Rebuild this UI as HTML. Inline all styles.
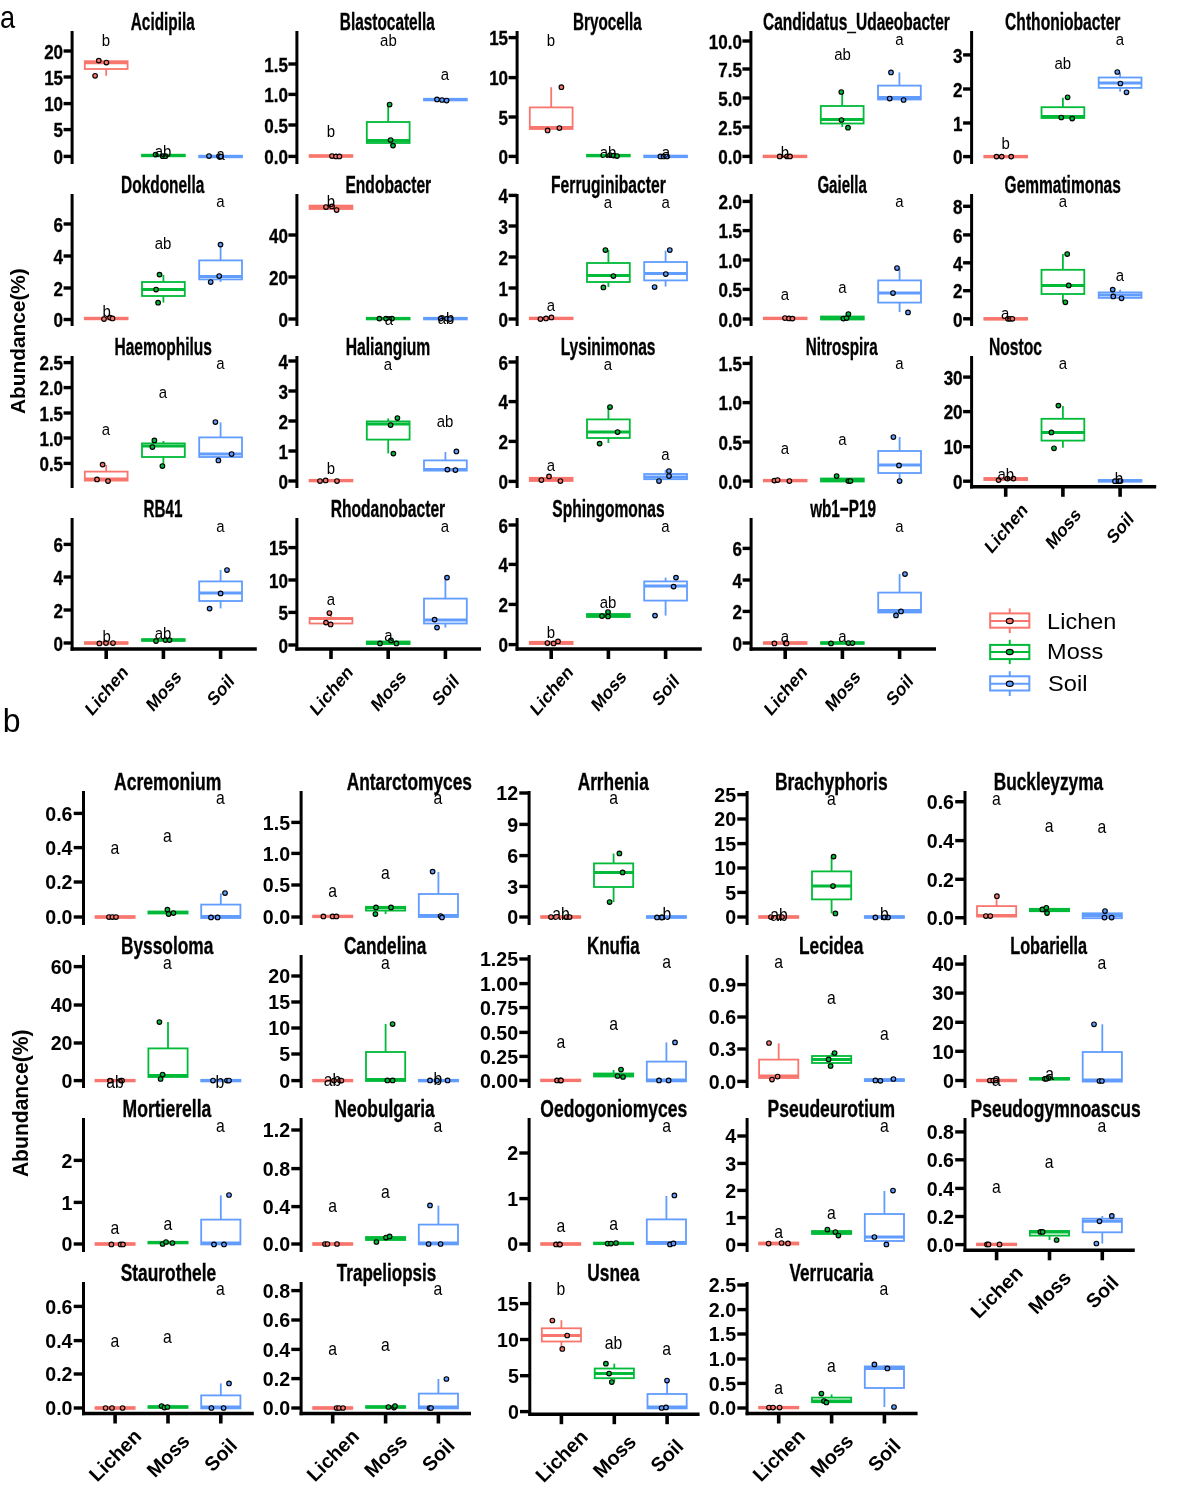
<!DOCTYPE html>
<html><head><meta charset="utf-8"><style>
html,body{margin:0;padding:0;background:#fff;}
svg{display:block;font-family:'Liberation Sans', Arial, Helvetica, sans-serif;}
</style></head><body>
<svg width="1179" height="1500" viewBox="0 0 1179 1500">
<rect width="100%" height="100%" fill="#fff"/>
<g><line x1="72.1" y1="31" x2="72.1" y2="164" stroke="#000" stroke-width="3"/><line x1="63.6" y1="51" x2="72.1" y2="51" stroke="#000" stroke-width="3.4"/><text transform="translate(63.1,58.7) scale(0.87,1)" font-size="19.6" font-weight="bold" text-anchor="end" stroke="#000" stroke-width="0.3">20</text><line x1="63.6" y1="77" x2="72.1" y2="77" stroke="#000" stroke-width="3.4"/><text transform="translate(63.1,84.7) scale(0.87,1)" font-size="19.6" font-weight="bold" text-anchor="end" stroke="#000" stroke-width="0.3">15</text><line x1="63.6" y1="103.6" x2="72.1" y2="103.6" stroke="#000" stroke-width="3.4"/><text transform="translate(63.1,111.3) scale(0.87,1)" font-size="19.6" font-weight="bold" text-anchor="end" stroke="#000" stroke-width="0.3">10</text><line x1="63.6" y1="129.6" x2="72.1" y2="129.6" stroke="#000" stroke-width="3.4"/><text transform="translate(63.1,137.3) scale(0.87,1)" font-size="19.6" font-weight="bold" text-anchor="end" stroke="#000" stroke-width="0.3">5</text><line x1="63.6" y1="156.4" x2="72.1" y2="156.4" stroke="#000" stroke-width="3.4"/><text transform="translate(63.1,164.1) scale(0.87,1)" font-size="19.6" font-weight="bold" text-anchor="end" stroke="#000" stroke-width="0.3">0</text><text transform="translate(130.79,29.95)" font-size="24" font-weight="bold" text-anchor="start" textLength="63.89" lengthAdjust="spacingAndGlyphs" stroke="#000" stroke-width="0.35">Acidipila</text><line x1="106.2" y1="61.2" x2="106.2" y2="61" stroke="#F8766D" stroke-width="1.8"/><line x1="106.2" y1="69" x2="106.2" y2="75.8" stroke="#F8766D" stroke-width="1.8"/><rect x="84.8" y="61.2" width="42.8" height="7.8" fill="#fff" stroke="#F8766D" stroke-width="1.8"/><line x1="84.8" y1="62.8" x2="127.6" y2="62.8" stroke="#F8766D" stroke-width="3"/><circle cx="98.8" cy="60.6" r="2.3" fill="#F8766D" stroke="#000" stroke-width="1.15"/><circle cx="106.4" cy="62.5" r="2.3" fill="#F8766D" stroke="#000" stroke-width="1.15"/><circle cx="95.1" cy="75.8" r="2.3" fill="#F8766D" stroke="#000" stroke-width="1.15"/><text transform="translate(106,45.5) scale(0.88,1)" font-size="17" font-weight="normal" text-anchor="middle">b</text><rect x="142" y="154.7" width="42.8" height="1.6" fill="#fff" stroke="#00BA38" stroke-width="1.8"/><line x1="142" y1="155.5" x2="184.8" y2="155.5" stroke="#00BA38" stroke-width="3"/><circle cx="155.6" cy="154.5" r="2.3" fill="#00BA38" stroke="#000" stroke-width="1.15"/><circle cx="162.7" cy="156.2" r="2.3" fill="#00BA38" stroke="#000" stroke-width="1.15"/><circle cx="165.4" cy="156.2" r="2.3" fill="#00BA38" stroke="#000" stroke-width="1.15"/><text transform="translate(163,156.5) scale(0.88,1)" font-size="17" font-weight="normal" text-anchor="middle">ab</text><rect x="199.2" y="155.7" width="42.8" height="1.6" fill="#fff" stroke="#619CFF" stroke-width="1.8"/><line x1="199.2" y1="156.5" x2="242" y2="156.5" stroke="#619CFF" stroke-width="3"/><circle cx="209" cy="156" r="2.3" fill="#619CFF" stroke="#000" stroke-width="1.15"/><circle cx="219" cy="156" r="2.3" fill="#619CFF" stroke="#000" stroke-width="1.15"/><circle cx="221" cy="156.5" r="2.3" fill="#619CFF" stroke="#000" stroke-width="1.15"/><text transform="translate(220.6,160.1) scale(0.88,1)" font-size="17" font-weight="normal" text-anchor="middle">a</text></g>
<g><line x1="296.9" y1="31" x2="296.9" y2="164" stroke="#000" stroke-width="3"/><line x1="288.4" y1="64" x2="296.9" y2="64" stroke="#000" stroke-width="3.4"/><text transform="translate(287.9,71.7) scale(0.87,1)" font-size="19.6" font-weight="bold" text-anchor="end" stroke="#000" stroke-width="0.3">1.5</text><line x1="288.4" y1="94.4" x2="296.9" y2="94.4" stroke="#000" stroke-width="3.4"/><text transform="translate(287.9,102.1) scale(0.87,1)" font-size="19.6" font-weight="bold" text-anchor="end" stroke="#000" stroke-width="0.3">1.0</text><line x1="288.4" y1="125" x2="296.9" y2="125" stroke="#000" stroke-width="3.4"/><text transform="translate(287.9,132.7) scale(0.87,1)" font-size="19.6" font-weight="bold" text-anchor="end" stroke="#000" stroke-width="0.3">0.5</text><line x1="288.4" y1="156.4" x2="296.9" y2="156.4" stroke="#000" stroke-width="3.4"/><text transform="translate(287.9,164.1) scale(0.87,1)" font-size="19.6" font-weight="bold" text-anchor="end" stroke="#000" stroke-width="0.3">0.0</text><text transform="translate(339.78,29.95)" font-size="24" font-weight="bold" text-anchor="start" textLength="95.01" lengthAdjust="spacingAndGlyphs" stroke="#000" stroke-width="0.35">Blastocatella</text><rect x="309.6" y="155.2" width="42.8" height="1.6" fill="#fff" stroke="#F8766D" stroke-width="1.8"/><line x1="309.6" y1="156" x2="352.4" y2="156" stroke="#F8766D" stroke-width="3"/><circle cx="332" cy="156" r="2.3" fill="#F8766D" stroke="#000" stroke-width="1.15"/><circle cx="336" cy="156.4" r="2.3" fill="#F8766D" stroke="#000" stroke-width="1.15"/><circle cx="339.4" cy="156.4" r="2.3" fill="#F8766D" stroke="#000" stroke-width="1.15"/><text transform="translate(331,137) scale(0.88,1)" font-size="17" font-weight="normal" text-anchor="middle">b</text><line x1="388.2" y1="122" x2="388.2" y2="104" stroke="#00BA38" stroke-width="1.8"/><rect x="366.8" y="122" width="42.8" height="21" fill="#fff" stroke="#00BA38" stroke-width="1.8"/><line x1="366.8" y1="140.5" x2="409.6" y2="140.5" stroke="#00BA38" stroke-width="3"/><circle cx="389.6" cy="104.6" r="2.3" fill="#00BA38" stroke="#000" stroke-width="1.15"/><circle cx="390.6" cy="140" r="2.3" fill="#00BA38" stroke="#000" stroke-width="1.15"/><circle cx="393" cy="145.6" r="2.3" fill="#00BA38" stroke="#000" stroke-width="1.15"/><text transform="translate(388.4,45.5) scale(0.88,1)" font-size="17" font-weight="normal" text-anchor="middle">ab</text><rect x="424" y="98.8" width="42.8" height="1.6" fill="#fff" stroke="#619CFF" stroke-width="1.8"/><line x1="424" y1="99.6" x2="466.8" y2="99.6" stroke="#619CFF" stroke-width="3"/><circle cx="437" cy="99.4" r="2.3" fill="#619CFF" stroke="#000" stroke-width="1.15"/><circle cx="442" cy="100" r="2.3" fill="#619CFF" stroke="#000" stroke-width="1.15"/><circle cx="446.6" cy="100.6" r="2.3" fill="#619CFF" stroke="#000" stroke-width="1.15"/><text transform="translate(445,80.1) scale(0.88,1)" font-size="17" font-weight="normal" text-anchor="middle">a</text></g>
<g><line x1="517.1" y1="31" x2="517.1" y2="164" stroke="#000" stroke-width="3"/><line x1="508.6" y1="37.6" x2="517.1" y2="37.6" stroke="#000" stroke-width="3.4"/><text transform="translate(508.1,45.3) scale(0.87,1)" font-size="19.6" font-weight="bold" text-anchor="end" stroke="#000" stroke-width="0.3">15</text><line x1="508.6" y1="77.6" x2="517.1" y2="77.6" stroke="#000" stroke-width="3.4"/><text transform="translate(508.1,85.3) scale(0.87,1)" font-size="19.6" font-weight="bold" text-anchor="end" stroke="#000" stroke-width="0.3">10</text><line x1="508.6" y1="117" x2="517.1" y2="117" stroke="#000" stroke-width="3.4"/><text transform="translate(508.1,124.7) scale(0.87,1)" font-size="19.6" font-weight="bold" text-anchor="end" stroke="#000" stroke-width="0.3">5</text><line x1="508.6" y1="156.4" x2="517.1" y2="156.4" stroke="#000" stroke-width="3.4"/><text transform="translate(508.1,164.1) scale(0.87,1)" font-size="19.6" font-weight="bold" text-anchor="end" stroke="#000" stroke-width="0.3">0</text><text transform="translate(573.08,29.95)" font-size="24" font-weight="bold" text-anchor="start" textLength="68.7" lengthAdjust="spacingAndGlyphs" stroke="#000" stroke-width="0.35">Bryocella</text><line x1="551.2" y1="107.4" x2="551.2" y2="87.2" stroke="#F8766D" stroke-width="1.8"/><rect x="529.8" y="107.4" width="42.8" height="21.6" fill="#fff" stroke="#F8766D" stroke-width="1.8"/><line x1="529.8" y1="127.5" x2="572.6" y2="127.5" stroke="#F8766D" stroke-width="3"/><circle cx="561.4" cy="87.2" r="2.3" fill="#F8766D" stroke="#000" stroke-width="1.15"/><circle cx="559.4" cy="128" r="2.3" fill="#F8766D" stroke="#000" stroke-width="1.15"/><circle cx="547.6" cy="130.4" r="2.3" fill="#F8766D" stroke="#000" stroke-width="1.15"/><text transform="translate(551,45.5) scale(0.88,1)" font-size="17" font-weight="normal" text-anchor="middle">b</text><rect x="587" y="154.8" width="42.8" height="1.6" fill="#fff" stroke="#00BA38" stroke-width="1.8"/><line x1="587" y1="155.6" x2="629.8" y2="155.6" stroke="#00BA38" stroke-width="3"/><circle cx="610" cy="155" r="2.3" fill="#00BA38" stroke="#000" stroke-width="1.15"/><circle cx="613.6" cy="155.6" r="2.3" fill="#00BA38" stroke="#000" stroke-width="1.15"/><circle cx="617" cy="156" r="2.3" fill="#00BA38" stroke="#000" stroke-width="1.15"/><text transform="translate(608,157.5) scale(0.88,1)" font-size="17" font-weight="normal" text-anchor="middle">ab</text><rect x="644.2" y="155.6" width="42.8" height="1.6" fill="#fff" stroke="#619CFF" stroke-width="1.8"/><line x1="644.2" y1="156.4" x2="687" y2="156.4" stroke="#619CFF" stroke-width="3"/><circle cx="660.4" cy="156.4" r="2.3" fill="#619CFF" stroke="#000" stroke-width="1.15"/><circle cx="663.6" cy="156.4" r="2.3" fill="#619CFF" stroke="#000" stroke-width="1.15"/><circle cx="667" cy="156.4" r="2.3" fill="#619CFF" stroke="#000" stroke-width="1.15"/><text transform="translate(666,157.5) scale(0.88,1)" font-size="17" font-weight="normal" text-anchor="middle">a</text></g>
<g><line x1="750.9" y1="31" x2="750.9" y2="164" stroke="#000" stroke-width="3"/><line x1="742.4" y1="41" x2="750.9" y2="41" stroke="#000" stroke-width="3.4"/><text transform="translate(741.9,48.7) scale(0.87,1)" font-size="19.6" font-weight="bold" text-anchor="end" stroke="#000" stroke-width="0.3">10.0</text><line x1="742.4" y1="69" x2="750.9" y2="69" stroke="#000" stroke-width="3.4"/><text transform="translate(741.9,76.7) scale(0.87,1)" font-size="19.6" font-weight="bold" text-anchor="end" stroke="#000" stroke-width="0.3">7.5</text><line x1="742.4" y1="98" x2="750.9" y2="98" stroke="#000" stroke-width="3.4"/><text transform="translate(741.9,105.7) scale(0.87,1)" font-size="19.6" font-weight="bold" text-anchor="end" stroke="#000" stroke-width="0.3">5.0</text><line x1="742.4" y1="127" x2="750.9" y2="127" stroke="#000" stroke-width="3.4"/><text transform="translate(741.9,134.7) scale(0.87,1)" font-size="19.6" font-weight="bold" text-anchor="end" stroke="#000" stroke-width="0.3">2.5</text><line x1="742.4" y1="156.4" x2="750.9" y2="156.4" stroke="#000" stroke-width="3.4"/><text transform="translate(741.9,164.1) scale(0.87,1)" font-size="19.6" font-weight="bold" text-anchor="end" stroke="#000" stroke-width="0.3">0.0</text><text transform="translate(762.98,29.95)" font-size="24" font-weight="bold" text-anchor="start" textLength="186.86" lengthAdjust="spacingAndGlyphs" stroke="#000" stroke-width="0.35">Candidatus_Udaeobacter</text><rect x="763.6" y="155.6" width="42.8" height="1.6" fill="#fff" stroke="#F8766D" stroke-width="1.8"/><line x1="763.6" y1="156.4" x2="806.4" y2="156.4" stroke="#F8766D" stroke-width="3"/><circle cx="779.7" cy="156.4" r="2.3" fill="#F8766D" stroke="#000" stroke-width="1.15"/><circle cx="787" cy="156.4" r="2.3" fill="#F8766D" stroke="#000" stroke-width="1.15"/><circle cx="790" cy="156.4" r="2.3" fill="#F8766D" stroke="#000" stroke-width="1.15"/><text transform="translate(785,157.5) scale(0.88,1)" font-size="17" font-weight="normal" text-anchor="middle">b</text><line x1="842.2" y1="106" x2="842.2" y2="92.4" stroke="#00BA38" stroke-width="1.8"/><line x1="842.2" y1="123.5" x2="842.2" y2="127" stroke="#00BA38" stroke-width="1.8"/><rect x="820.8" y="106" width="42.8" height="17.5" fill="#fff" stroke="#00BA38" stroke-width="1.8"/><line x1="820.8" y1="119.5" x2="863.6" y2="119.5" stroke="#00BA38" stroke-width="3"/><circle cx="841.3" cy="92" r="2.3" fill="#00BA38" stroke="#000" stroke-width="1.15"/><circle cx="841.5" cy="120" r="2.3" fill="#00BA38" stroke="#000" stroke-width="1.15"/><circle cx="848" cy="127.7" r="2.3" fill="#00BA38" stroke="#000" stroke-width="1.15"/><text transform="translate(842.5,59.5) scale(0.88,1)" font-size="17" font-weight="normal" text-anchor="middle">ab</text><line x1="899.4" y1="85.6" x2="899.4" y2="72.4" stroke="#619CFF" stroke-width="1.8"/><rect x="878" y="85.6" width="42.8" height="13.9" fill="#fff" stroke="#619CFF" stroke-width="1.8"/><line x1="878" y1="97.5" x2="920.8" y2="97.5" stroke="#619CFF" stroke-width="3"/><circle cx="891" cy="72.4" r="2.3" fill="#619CFF" stroke="#000" stroke-width="1.15"/><circle cx="889.7" cy="98.6" r="2.3" fill="#619CFF" stroke="#000" stroke-width="1.15"/><circle cx="903.6" cy="100" r="2.3" fill="#619CFF" stroke="#000" stroke-width="1.15"/><text transform="translate(899.5,45.1) scale(0.88,1)" font-size="17" font-weight="normal" text-anchor="middle">a</text></g>
<g><line x1="971.6" y1="31" x2="971.6" y2="164" stroke="#000" stroke-width="3"/><line x1="963.1" y1="54.9" x2="971.6" y2="54.9" stroke="#000" stroke-width="3.4"/><text transform="translate(962.6,62.6) scale(0.87,1)" font-size="19.6" font-weight="bold" text-anchor="end" stroke="#000" stroke-width="0.3">3</text><line x1="963.1" y1="89" x2="971.6" y2="89" stroke="#000" stroke-width="3.4"/><text transform="translate(962.6,96.7) scale(0.87,1)" font-size="19.6" font-weight="bold" text-anchor="end" stroke="#000" stroke-width="0.3">2</text><line x1="963.1" y1="123" x2="971.6" y2="123" stroke="#000" stroke-width="3.4"/><text transform="translate(962.6,130.7) scale(0.87,1)" font-size="19.6" font-weight="bold" text-anchor="end" stroke="#000" stroke-width="0.3">1</text><line x1="963.1" y1="156.6" x2="971.6" y2="156.6" stroke="#000" stroke-width="3.4"/><text transform="translate(962.6,164.3) scale(0.87,1)" font-size="19.6" font-weight="bold" text-anchor="end" stroke="#000" stroke-width="0.3">0</text><text transform="translate(1005.08,29.95)" font-size="24" font-weight="bold" text-anchor="start" textLength="115.37" lengthAdjust="spacingAndGlyphs" stroke="#000" stroke-width="0.35">Chthoniobacter</text><rect x="984.3" y="155.8" width="42.8" height="1.6" fill="#fff" stroke="#F8766D" stroke-width="1.8"/><line x1="984.3" y1="156.6" x2="1027.1" y2="156.6" stroke="#F8766D" stroke-width="3"/><circle cx="996.5" cy="156.6" r="2.3" fill="#F8766D" stroke="#000" stroke-width="1.15"/><circle cx="1001.7" cy="156.6" r="2.3" fill="#F8766D" stroke="#000" stroke-width="1.15"/><circle cx="1011.2" cy="156.6" r="2.3" fill="#F8766D" stroke="#000" stroke-width="1.15"/><text transform="translate(1005.7,149.4) scale(0.88,1)" font-size="17" font-weight="normal" text-anchor="middle">b</text><line x1="1062.9" y1="107.2" x2="1062.9" y2="97.8" stroke="#00BA38" stroke-width="1.8"/><rect x="1041.5" y="107.2" width="42.8" height="10.8" fill="#fff" stroke="#00BA38" stroke-width="1.8"/><line x1="1041.5" y1="116.5" x2="1084.3" y2="116.5" stroke="#00BA38" stroke-width="3"/><circle cx="1067.6" cy="97.3" r="2.3" fill="#00BA38" stroke="#000" stroke-width="1.15"/><circle cx="1061.3" cy="117.5" r="2.3" fill="#00BA38" stroke="#000" stroke-width="1.15"/><circle cx="1072.2" cy="118.6" r="2.3" fill="#00BA38" stroke="#000" stroke-width="1.15"/><text transform="translate(1062.8,68.8) scale(0.88,1)" font-size="17" font-weight="normal" text-anchor="middle">ab</text><line x1="1120.1" y1="77.5" x2="1120.1" y2="72.5" stroke="#619CFF" stroke-width="1.8"/><line x1="1120.1" y1="87.9" x2="1120.1" y2="91.8" stroke="#619CFF" stroke-width="1.8"/><rect x="1098.7" y="77.5" width="42.8" height="10.4" fill="#fff" stroke="#619CFF" stroke-width="1.8"/><line x1="1098.7" y1="83" x2="1141.5" y2="83" stroke="#619CFF" stroke-width="3"/><circle cx="1117.3" cy="72" r="2.3" fill="#619CFF" stroke="#000" stroke-width="1.15"/><circle cx="1120.4" cy="83.5" r="2.3" fill="#619CFF" stroke="#000" stroke-width="1.15"/><circle cx="1126.5" cy="92.3" r="2.3" fill="#619CFF" stroke="#000" stroke-width="1.15"/><text transform="translate(1120,45.1) scale(0.88,1)" font-size="17" font-weight="normal" text-anchor="middle">a</text></g>
<g><line x1="72.1" y1="194" x2="72.1" y2="326" stroke="#000" stroke-width="3"/><line x1="63.6" y1="224" x2="72.1" y2="224" stroke="#000" stroke-width="3.4"/><text transform="translate(63.1,231.7) scale(0.87,1)" font-size="19.6" font-weight="bold" text-anchor="end" stroke="#000" stroke-width="0.3">6</text><line x1="63.6" y1="256" x2="72.1" y2="256" stroke="#000" stroke-width="3.4"/><text transform="translate(63.1,263.7) scale(0.87,1)" font-size="19.6" font-weight="bold" text-anchor="end" stroke="#000" stroke-width="0.3">4</text><line x1="63.6" y1="288" x2="72.1" y2="288" stroke="#000" stroke-width="3.4"/><text transform="translate(63.1,295.7) scale(0.87,1)" font-size="19.6" font-weight="bold" text-anchor="end" stroke="#000" stroke-width="0.3">2</text><line x1="63.6" y1="319.5" x2="72.1" y2="319.5" stroke="#000" stroke-width="3.4"/><text transform="translate(63.1,327.2) scale(0.87,1)" font-size="19.6" font-weight="bold" text-anchor="end" stroke="#000" stroke-width="0.3">0</text><text transform="translate(121.07,192.95)" font-size="24" font-weight="bold" text-anchor="start" textLength="83.21" lengthAdjust="spacingAndGlyphs" stroke="#000" stroke-width="0.35">Dokdonella</text><rect x="84.8" y="317.7" width="42.8" height="1.6" fill="#fff" stroke="#F8766D" stroke-width="1.8"/><line x1="84.8" y1="318.5" x2="127.6" y2="318.5" stroke="#F8766D" stroke-width="3"/><circle cx="104" cy="319" r="2.3" fill="#F8766D" stroke="#000" stroke-width="1.15"/><circle cx="110" cy="317.6" r="2.3" fill="#F8766D" stroke="#000" stroke-width="1.15"/><circle cx="112.5" cy="318.4" r="2.3" fill="#F8766D" stroke="#000" stroke-width="1.15"/><text transform="translate(106.7,316.5) scale(0.88,1)" font-size="17" font-weight="normal" text-anchor="middle">b</text><line x1="163.4" y1="282" x2="163.4" y2="275" stroke="#00BA38" stroke-width="1.8"/><line x1="163.4" y1="296" x2="163.4" y2="302.6" stroke="#00BA38" stroke-width="1.8"/><rect x="142" y="282" width="42.8" height="14" fill="#fff" stroke="#00BA38" stroke-width="1.8"/><line x1="142" y1="289.4" x2="184.8" y2="289.4" stroke="#00BA38" stroke-width="3"/><circle cx="159.5" cy="274.6" r="2.3" fill="#00BA38" stroke="#000" stroke-width="1.15"/><circle cx="156.1" cy="289.5" r="2.3" fill="#00BA38" stroke="#000" stroke-width="1.15"/><circle cx="158.1" cy="302.7" r="2.3" fill="#00BA38" stroke="#000" stroke-width="1.15"/><text transform="translate(163.1,248.5) scale(0.88,1)" font-size="17" font-weight="normal" text-anchor="middle">ab</text><line x1="220.6" y1="260.4" x2="220.6" y2="245" stroke="#619CFF" stroke-width="1.8"/><line x1="220.6" y1="279.4" x2="220.6" y2="282" stroke="#619CFF" stroke-width="1.8"/><rect x="199.2" y="260.4" width="42.8" height="19" fill="#fff" stroke="#619CFF" stroke-width="1.8"/><line x1="199.2" y1="276.5" x2="242" y2="276.5" stroke="#619CFF" stroke-width="3"/><circle cx="220.5" cy="244.6" r="2.3" fill="#619CFF" stroke="#000" stroke-width="1.15"/><circle cx="219.2" cy="276" r="2.3" fill="#619CFF" stroke="#000" stroke-width="1.15"/><circle cx="210.7" cy="282" r="2.3" fill="#619CFF" stroke="#000" stroke-width="1.15"/><text transform="translate(220.5,207.1) scale(0.88,1)" font-size="17" font-weight="normal" text-anchor="middle">a</text></g>
<g><line x1="296.9" y1="194" x2="296.9" y2="326" stroke="#000" stroke-width="3"/><line x1="288.4" y1="235" x2="296.9" y2="235" stroke="#000" stroke-width="3.4"/><text transform="translate(287.9,242.7) scale(0.87,1)" font-size="19.6" font-weight="bold" text-anchor="end" stroke="#000" stroke-width="0.3">40</text><line x1="288.4" y1="277" x2="296.9" y2="277" stroke="#000" stroke-width="3.4"/><text transform="translate(287.9,284.7) scale(0.87,1)" font-size="19.6" font-weight="bold" text-anchor="end" stroke="#000" stroke-width="0.3">20</text><line x1="288.4" y1="319" x2="296.9" y2="319" stroke="#000" stroke-width="3.4"/><text transform="translate(287.9,326.7) scale(0.87,1)" font-size="19.6" font-weight="bold" text-anchor="end" stroke="#000" stroke-width="0.3">0</text><text transform="translate(345.47,192.95)" font-size="24" font-weight="bold" text-anchor="start" textLength="85.68" lengthAdjust="spacingAndGlyphs" stroke="#000" stroke-width="0.35">Endobacter</text><rect x="309.6" y="205.6" width="42.8" height="3.4" fill="#fff" stroke="#F8766D" stroke-width="1.8"/><line x1="309.6" y1="207.2" x2="352.4" y2="207.2" stroke="#F8766D" stroke-width="3"/><circle cx="326" cy="207" r="2.3" fill="#F8766D" stroke="#000" stroke-width="1.15"/><circle cx="332" cy="206.4" r="2.3" fill="#F8766D" stroke="#000" stroke-width="1.15"/><circle cx="336.6" cy="210" r="2.3" fill="#F8766D" stroke="#000" stroke-width="1.15"/><text transform="translate(331,206.5) scale(0.88,1)" font-size="17" font-weight="normal" text-anchor="middle">b</text><rect x="366.8" y="317.8" width="42.8" height="1.6" fill="#fff" stroke="#00BA38" stroke-width="1.8"/><line x1="366.8" y1="318.6" x2="409.6" y2="318.6" stroke="#00BA38" stroke-width="3"/><circle cx="379.4" cy="318.6" r="2.3" fill="#00BA38" stroke="#000" stroke-width="1.15"/><circle cx="386" cy="318.6" r="2.3" fill="#00BA38" stroke="#000" stroke-width="1.15"/><circle cx="392" cy="318.6" r="2.3" fill="#00BA38" stroke="#000" stroke-width="1.15"/><text transform="translate(389,324.5) scale(0.88,1)" font-size="17" font-weight="normal" text-anchor="middle">a</text><rect x="424" y="317.8" width="42.8" height="1.6" fill="#fff" stroke="#619CFF" stroke-width="1.8"/><line x1="424" y1="318.6" x2="466.8" y2="318.6" stroke="#619CFF" stroke-width="3"/><circle cx="440.7" cy="318.6" r="2.3" fill="#619CFF" stroke="#000" stroke-width="1.15"/><circle cx="447" cy="318.6" r="2.3" fill="#619CFF" stroke="#000" stroke-width="1.15"/><circle cx="450" cy="319" r="2.3" fill="#619CFF" stroke="#000" stroke-width="1.15"/><text transform="translate(446,323.5) scale(0.88,1)" font-size="17" font-weight="normal" text-anchor="middle">ab</text></g>
<g><line x1="517.1" y1="194" x2="517.1" y2="326" stroke="#000" stroke-width="3"/><line x1="508.6" y1="195.4" x2="517.1" y2="195.4" stroke="#000" stroke-width="3.4"/><text transform="translate(508.1,203.1) scale(0.87,1)" font-size="19.6" font-weight="bold" text-anchor="end" stroke="#000" stroke-width="0.3">4</text><line x1="508.6" y1="226" x2="517.1" y2="226" stroke="#000" stroke-width="3.4"/><text transform="translate(508.1,233.7) scale(0.87,1)" font-size="19.6" font-weight="bold" text-anchor="end" stroke="#000" stroke-width="0.3">3</text><line x1="508.6" y1="257" x2="517.1" y2="257" stroke="#000" stroke-width="3.4"/><text transform="translate(508.1,264.7) scale(0.87,1)" font-size="19.6" font-weight="bold" text-anchor="end" stroke="#000" stroke-width="0.3">2</text><line x1="508.6" y1="288" x2="517.1" y2="288" stroke="#000" stroke-width="3.4"/><text transform="translate(508.1,295.7) scale(0.87,1)" font-size="19.6" font-weight="bold" text-anchor="end" stroke="#000" stroke-width="0.3">1</text><line x1="508.6" y1="319" x2="517.1" y2="319" stroke="#000" stroke-width="3.4"/><text transform="translate(508.1,326.7) scale(0.87,1)" font-size="19.6" font-weight="bold" text-anchor="end" stroke="#000" stroke-width="0.3">0</text><text transform="translate(551.06,192.95)" font-size="24" font-weight="bold" text-anchor="start" textLength="114.68" lengthAdjust="spacingAndGlyphs" stroke="#000" stroke-width="0.35">Ferruginibacter</text><rect x="529.8" y="317.6" width="42.8" height="1.6" fill="#fff" stroke="#F8766D" stroke-width="1.8"/><line x1="529.8" y1="318.4" x2="572.6" y2="318.4" stroke="#F8766D" stroke-width="3"/><circle cx="540.4" cy="319" r="2.3" fill="#F8766D" stroke="#000" stroke-width="1.15"/><circle cx="546" cy="318.4" r="2.3" fill="#F8766D" stroke="#000" stroke-width="1.15"/><circle cx="551.4" cy="317.4" r="2.3" fill="#F8766D" stroke="#000" stroke-width="1.15"/><text transform="translate(551,310.5) scale(0.88,1)" font-size="17" font-weight="normal" text-anchor="middle">a</text><line x1="608.4" y1="263" x2="608.4" y2="250" stroke="#00BA38" stroke-width="1.8"/><line x1="608.4" y1="282" x2="608.4" y2="287" stroke="#00BA38" stroke-width="1.8"/><rect x="587" y="263" width="42.8" height="19" fill="#fff" stroke="#00BA38" stroke-width="1.8"/><line x1="587" y1="275.6" x2="629.8" y2="275.6" stroke="#00BA38" stroke-width="3"/><circle cx="605.4" cy="250" r="2.3" fill="#00BA38" stroke="#000" stroke-width="1.15"/><circle cx="613.4" cy="276" r="2.3" fill="#00BA38" stroke="#000" stroke-width="1.15"/><circle cx="603.4" cy="287.4" r="2.3" fill="#00BA38" stroke="#000" stroke-width="1.15"/><text transform="translate(608,207.5) scale(0.88,1)" font-size="17" font-weight="normal" text-anchor="middle">a</text><line x1="665.6" y1="262" x2="665.6" y2="250.6" stroke="#619CFF" stroke-width="1.8"/><line x1="665.6" y1="280.4" x2="665.6" y2="286.6" stroke="#619CFF" stroke-width="1.8"/><rect x="644.2" y="262" width="42.8" height="18.4" fill="#fff" stroke="#619CFF" stroke-width="1.8"/><line x1="644.2" y1="273.6" x2="687" y2="273.6" stroke="#619CFF" stroke-width="3"/><circle cx="669.8" cy="250" r="2.3" fill="#619CFF" stroke="#000" stroke-width="1.15"/><circle cx="665.8" cy="274" r="2.3" fill="#619CFF" stroke="#000" stroke-width="1.15"/><circle cx="654.6" cy="287" r="2.3" fill="#619CFF" stroke="#000" stroke-width="1.15"/><text transform="translate(665.6,207.5) scale(0.88,1)" font-size="17" font-weight="normal" text-anchor="middle">a</text></g>
<g><line x1="751.1" y1="194" x2="751.1" y2="326" stroke="#000" stroke-width="3"/><line x1="742.6" y1="201.4" x2="751.1" y2="201.4" stroke="#000" stroke-width="3.4"/><text transform="translate(742.1,209.1) scale(0.87,1)" font-size="19.6" font-weight="bold" text-anchor="end" stroke="#000" stroke-width="0.3">2.0</text><line x1="742.6" y1="230.6" x2="751.1" y2="230.6" stroke="#000" stroke-width="3.4"/><text transform="translate(742.1,238.3) scale(0.87,1)" font-size="19.6" font-weight="bold" text-anchor="end" stroke="#000" stroke-width="0.3">1.5</text><line x1="742.6" y1="260" x2="751.1" y2="260" stroke="#000" stroke-width="3.4"/><text transform="translate(742.1,267.7) scale(0.87,1)" font-size="19.6" font-weight="bold" text-anchor="end" stroke="#000" stroke-width="0.3">1.0</text><line x1="742.6" y1="289.4" x2="751.1" y2="289.4" stroke="#000" stroke-width="3.4"/><text transform="translate(742.1,297.1) scale(0.87,1)" font-size="19.6" font-weight="bold" text-anchor="end" stroke="#000" stroke-width="0.3">0.5</text><line x1="742.6" y1="319" x2="751.1" y2="319" stroke="#000" stroke-width="3.4"/><text transform="translate(742.1,326.7) scale(0.87,1)" font-size="19.6" font-weight="bold" text-anchor="end" stroke="#000" stroke-width="0.3">0.0</text><text transform="translate(817.4,192.95)" font-size="24" font-weight="bold" text-anchor="start" textLength="49.39" lengthAdjust="spacingAndGlyphs" stroke="#000" stroke-width="0.35">Gaiella</text><rect x="763.8" y="317.6" width="42.8" height="1.6" fill="#fff" stroke="#F8766D" stroke-width="1.8"/><line x1="763.8" y1="318.4" x2="806.6" y2="318.4" stroke="#F8766D" stroke-width="3"/><circle cx="785" cy="318" r="2.3" fill="#F8766D" stroke="#000" stroke-width="1.15"/><circle cx="789" cy="318.4" r="2.3" fill="#F8766D" stroke="#000" stroke-width="1.15"/><circle cx="792.4" cy="318.6" r="2.3" fill="#F8766D" stroke="#000" stroke-width="1.15"/><text transform="translate(785,299.5) scale(0.88,1)" font-size="17" font-weight="normal" text-anchor="middle">a</text><rect x="821" y="316.5" width="42.8" height="3" fill="#fff" stroke="#00BA38" stroke-width="1.8"/><line x1="821" y1="318" x2="863.8" y2="318" stroke="#00BA38" stroke-width="3"/><circle cx="843.4" cy="318.6" r="2.3" fill="#00BA38" stroke="#000" stroke-width="1.15"/><circle cx="846.6" cy="318" r="2.3" fill="#00BA38" stroke="#000" stroke-width="1.15"/><circle cx="848.4" cy="314" r="2.3" fill="#00BA38" stroke="#000" stroke-width="1.15"/><text transform="translate(842.4,292.5) scale(0.88,1)" font-size="17" font-weight="normal" text-anchor="middle">a</text><line x1="899.6" y1="280.4" x2="899.6" y2="268.6" stroke="#619CFF" stroke-width="1.8"/><line x1="899.6" y1="302.6" x2="899.6" y2="312" stroke="#619CFF" stroke-width="1.8"/><rect x="878.2" y="280.4" width="42.8" height="22.2" fill="#fff" stroke="#619CFF" stroke-width="1.8"/><line x1="878.2" y1="293" x2="921" y2="293" stroke="#619CFF" stroke-width="3"/><circle cx="897" cy="268" r="2.3" fill="#619CFF" stroke="#000" stroke-width="1.15"/><circle cx="893" cy="293" r="2.3" fill="#619CFF" stroke="#000" stroke-width="1.15"/><circle cx="908" cy="312.4" r="2.3" fill="#619CFF" stroke="#000" stroke-width="1.15"/><text transform="translate(899.4,207.1) scale(0.88,1)" font-size="17" font-weight="normal" text-anchor="middle">a</text></g>
<g><line x1="971.6" y1="194" x2="971.6" y2="326" stroke="#000" stroke-width="3"/><line x1="963.1" y1="206.3" x2="971.6" y2="206.3" stroke="#000" stroke-width="3.4"/><text transform="translate(962.6,214) scale(0.87,1)" font-size="19.6" font-weight="bold" text-anchor="end" stroke="#000" stroke-width="0.3">8</text><line x1="963.1" y1="234.9" x2="971.6" y2="234.9" stroke="#000" stroke-width="3.4"/><text transform="translate(962.6,242.6) scale(0.87,1)" font-size="19.6" font-weight="bold" text-anchor="end" stroke="#000" stroke-width="0.3">6</text><line x1="963.1" y1="262.8" x2="971.6" y2="262.8" stroke="#000" stroke-width="3.4"/><text transform="translate(962.6,270.5) scale(0.87,1)" font-size="19.6" font-weight="bold" text-anchor="end" stroke="#000" stroke-width="0.3">4</text><line x1="963.1" y1="290.7" x2="971.6" y2="290.7" stroke="#000" stroke-width="3.4"/><text transform="translate(962.6,298.4) scale(0.87,1)" font-size="19.6" font-weight="bold" text-anchor="end" stroke="#000" stroke-width="0.3">2</text><line x1="963.1" y1="318.8" x2="971.6" y2="318.8" stroke="#000" stroke-width="3.4"/><text transform="translate(962.6,326.5) scale(0.87,1)" font-size="19.6" font-weight="bold" text-anchor="end" stroke="#000" stroke-width="0.3">0</text><text transform="translate(1004.58,192.95)" font-size="24" font-weight="bold" text-anchor="start" textLength="116.28" lengthAdjust="spacingAndGlyphs" stroke="#000" stroke-width="0.35">Gemmatimonas</text><rect x="984.3" y="318" width="42.8" height="1.6" fill="#fff" stroke="#F8766D" stroke-width="1.8"/><line x1="984.3" y1="318.8" x2="1027.1" y2="318.8" stroke="#F8766D" stroke-width="3"/><circle cx="1008" cy="318.8" r="2.3" fill="#F8766D" stroke="#000" stroke-width="1.15"/><circle cx="1010" cy="318.8" r="2.3" fill="#F8766D" stroke="#000" stroke-width="1.15"/><circle cx="1012.3" cy="318.8" r="2.3" fill="#F8766D" stroke="#000" stroke-width="1.15"/><text transform="translate(1005.2,318.9) scale(0.88,1)" font-size="17" font-weight="normal" text-anchor="middle">a</text><line x1="1062.9" y1="269.8" x2="1062.9" y2="254" stroke="#00BA38" stroke-width="1.8"/><line x1="1062.9" y1="294" x2="1062.9" y2="302.3" stroke="#00BA38" stroke-width="1.8"/><rect x="1041.5" y="269.8" width="42.8" height="24.2" fill="#fff" stroke="#00BA38" stroke-width="1.8"/><line x1="1041.5" y1="285.4" x2="1084.3" y2="285.4" stroke="#00BA38" stroke-width="3"/><circle cx="1067.2" cy="254" r="2.3" fill="#00BA38" stroke="#000" stroke-width="1.15"/><circle cx="1068.7" cy="285.4" r="2.3" fill="#00BA38" stroke="#000" stroke-width="1.15"/><circle cx="1065.4" cy="302.3" r="2.3" fill="#00BA38" stroke="#000" stroke-width="1.15"/><text transform="translate(1062.8,207.3) scale(0.88,1)" font-size="17" font-weight="normal" text-anchor="middle">a</text><line x1="1120.1" y1="292.4" x2="1120.1" y2="289.8" stroke="#619CFF" stroke-width="1.8"/><rect x="1098.7" y="292.4" width="42.8" height="5.5" fill="#fff" stroke="#619CFF" stroke-width="1.8"/><line x1="1098.7" y1="295" x2="1141.5" y2="295" stroke="#619CFF" stroke-width="3"/><circle cx="1112.7" cy="289.6" r="2.3" fill="#619CFF" stroke="#000" stroke-width="1.15"/><circle cx="1113.3" cy="296.4" r="2.3" fill="#619CFF" stroke="#000" stroke-width="1.15"/><circle cx="1121.5" cy="298.3" r="2.3" fill="#619CFF" stroke="#000" stroke-width="1.15"/><text transform="translate(1120,281.1) scale(0.88,1)" font-size="17" font-weight="normal" text-anchor="middle">a</text></g>
<g><line x1="72.1" y1="356" x2="72.1" y2="488" stroke="#000" stroke-width="3"/><line x1="63.6" y1="362.6" x2="72.1" y2="362.6" stroke="#000" stroke-width="3.4"/><text transform="translate(63.1,370.3) scale(0.87,1)" font-size="19.6" font-weight="bold" text-anchor="end" stroke="#000" stroke-width="0.3">2.5</text><line x1="63.6" y1="387.6" x2="72.1" y2="387.6" stroke="#000" stroke-width="3.4"/><text transform="translate(63.1,395.3) scale(0.87,1)" font-size="19.6" font-weight="bold" text-anchor="end" stroke="#000" stroke-width="0.3">2.0</text><line x1="63.6" y1="413" x2="72.1" y2="413" stroke="#000" stroke-width="3.4"/><text transform="translate(63.1,420.7) scale(0.87,1)" font-size="19.6" font-weight="bold" text-anchor="end" stroke="#000" stroke-width="0.3">1.5</text><line x1="63.6" y1="438" x2="72.1" y2="438" stroke="#000" stroke-width="3.4"/><text transform="translate(63.1,445.7) scale(0.87,1)" font-size="19.6" font-weight="bold" text-anchor="end" stroke="#000" stroke-width="0.3">1.0</text><line x1="63.6" y1="463.4" x2="72.1" y2="463.4" stroke="#000" stroke-width="3.4"/><text transform="translate(63.1,471.1) scale(0.87,1)" font-size="19.6" font-weight="bold" text-anchor="end" stroke="#000" stroke-width="0.3">0.5</text><text transform="translate(114.47,354.95)" font-size="24" font-weight="bold" text-anchor="start" textLength="97.49" lengthAdjust="spacingAndGlyphs" stroke="#000" stroke-width="0.35">Haemophilus</text><line x1="106.2" y1="471.6" x2="106.2" y2="465" stroke="#F8766D" stroke-width="1.8"/><rect x="84.8" y="471.6" width="42.8" height="9" fill="#fff" stroke="#F8766D" stroke-width="1.8"/><line x1="84.8" y1="479" x2="127.6" y2="479" stroke="#F8766D" stroke-width="3"/><circle cx="102.6" cy="464.6" r="2.3" fill="#F8766D" stroke="#000" stroke-width="1.15"/><circle cx="97" cy="479.4" r="2.3" fill="#F8766D" stroke="#000" stroke-width="1.15"/><circle cx="108" cy="481" r="2.3" fill="#F8766D" stroke="#000" stroke-width="1.15"/><text transform="translate(106,434.5) scale(0.88,1)" font-size="17" font-weight="normal" text-anchor="middle">a</text><line x1="163.4" y1="443.4" x2="163.4" y2="441" stroke="#00BA38" stroke-width="1.8"/><line x1="163.4" y1="457" x2="163.4" y2="466" stroke="#00BA38" stroke-width="1.8"/><rect x="142" y="443.4" width="42.8" height="13.6" fill="#fff" stroke="#00BA38" stroke-width="1.8"/><line x1="142" y1="446" x2="184.8" y2="446" stroke="#00BA38" stroke-width="3"/><circle cx="154.4" cy="440.4" r="2.3" fill="#00BA38" stroke="#000" stroke-width="1.15"/><circle cx="152.4" cy="447" r="2.3" fill="#00BA38" stroke="#000" stroke-width="1.15"/><circle cx="162.4" cy="466" r="2.3" fill="#00BA38" stroke="#000" stroke-width="1.15"/><text transform="translate(163,397.5) scale(0.88,1)" font-size="17" font-weight="normal" text-anchor="middle">a</text><line x1="220.6" y1="437.4" x2="220.6" y2="422.4" stroke="#619CFF" stroke-width="1.8"/><rect x="199.2" y="437.4" width="42.8" height="19.6" fill="#fff" stroke="#619CFF" stroke-width="1.8"/><line x1="199.2" y1="454" x2="242" y2="454" stroke="#619CFF" stroke-width="3"/><circle cx="215.4" cy="422" r="2.3" fill="#619CFF" stroke="#000" stroke-width="1.15"/><circle cx="231.6" cy="454" r="2.3" fill="#619CFF" stroke="#000" stroke-width="1.15"/><circle cx="218.4" cy="460.4" r="2.3" fill="#619CFF" stroke="#000" stroke-width="1.15"/><text transform="translate(220.4,369.1) scale(0.88,1)" font-size="17" font-weight="normal" text-anchor="middle">a</text></g>
<g><line x1="296.9" y1="356" x2="296.9" y2="488" stroke="#000" stroke-width="3"/><line x1="288.4" y1="361" x2="296.9" y2="361" stroke="#000" stroke-width="3.4"/><text transform="translate(287.9,368.7) scale(0.87,1)" font-size="19.6" font-weight="bold" text-anchor="end" stroke="#000" stroke-width="0.3">4</text><line x1="288.4" y1="391" x2="296.9" y2="391" stroke="#000" stroke-width="3.4"/><text transform="translate(287.9,398.7) scale(0.87,1)" font-size="19.6" font-weight="bold" text-anchor="end" stroke="#000" stroke-width="0.3">3</text><line x1="288.4" y1="421" x2="296.9" y2="421" stroke="#000" stroke-width="3.4"/><text transform="translate(287.9,428.7) scale(0.87,1)" font-size="19.6" font-weight="bold" text-anchor="end" stroke="#000" stroke-width="0.3">2</text><line x1="288.4" y1="451" x2="296.9" y2="451" stroke="#000" stroke-width="3.4"/><text transform="translate(287.9,458.7) scale(0.87,1)" font-size="19.6" font-weight="bold" text-anchor="end" stroke="#000" stroke-width="0.3">1</text><line x1="288.4" y1="481" x2="296.9" y2="481" stroke="#000" stroke-width="3.4"/><text transform="translate(287.9,488.7) scale(0.87,1)" font-size="19.6" font-weight="bold" text-anchor="end" stroke="#000" stroke-width="0.3">0</text><text transform="translate(345.66,354.95)" font-size="24" font-weight="bold" text-anchor="start" textLength="84.67" lengthAdjust="spacingAndGlyphs" stroke="#000" stroke-width="0.35">Haliangium</text><rect x="309.6" y="479.8" width="42.8" height="1.6" fill="#fff" stroke="#F8766D" stroke-width="1.8"/><line x1="309.6" y1="480.6" x2="352.4" y2="480.6" stroke="#F8766D" stroke-width="3"/><circle cx="320" cy="481" r="2.3" fill="#F8766D" stroke="#000" stroke-width="1.15"/><circle cx="325.6" cy="480.4" r="2.3" fill="#F8766D" stroke="#000" stroke-width="1.15"/><circle cx="337" cy="481" r="2.3" fill="#F8766D" stroke="#000" stroke-width="1.15"/><text transform="translate(331,473.9) scale(0.88,1)" font-size="17" font-weight="normal" text-anchor="middle">b</text><line x1="388.2" y1="421.4" x2="388.2" y2="418.4" stroke="#00BA38" stroke-width="1.8"/><line x1="388.2" y1="439.6" x2="388.2" y2="453.4" stroke="#00BA38" stroke-width="1.8"/><rect x="366.8" y="421.4" width="42.8" height="18.2" fill="#fff" stroke="#00BA38" stroke-width="1.8"/><line x1="366.8" y1="424" x2="409.6" y2="424" stroke="#00BA38" stroke-width="3"/><circle cx="397.4" cy="418" r="2.3" fill="#00BA38" stroke="#000" stroke-width="1.15"/><circle cx="390.6" cy="425" r="2.3" fill="#00BA38" stroke="#000" stroke-width="1.15"/><circle cx="393.4" cy="453.6" r="2.3" fill="#00BA38" stroke="#000" stroke-width="1.15"/><text transform="translate(388,369.5) scale(0.88,1)" font-size="17" font-weight="normal" text-anchor="middle">a</text><line x1="445.4" y1="460.4" x2="445.4" y2="452" stroke="#619CFF" stroke-width="1.8"/><rect x="424" y="460.4" width="42.8" height="10.2" fill="#fff" stroke="#619CFF" stroke-width="1.8"/><line x1="424" y1="469.4" x2="466.8" y2="469.4" stroke="#619CFF" stroke-width="3"/><circle cx="456.4" cy="451.4" r="2.3" fill="#619CFF" stroke="#000" stroke-width="1.15"/><circle cx="447.4" cy="469.6" r="2.3" fill="#619CFF" stroke="#000" stroke-width="1.15"/><circle cx="455.4" cy="470" r="2.3" fill="#619CFF" stroke="#000" stroke-width="1.15"/><text transform="translate(445,426.9) scale(0.88,1)" font-size="17" font-weight="normal" text-anchor="middle">ab</text></g>
<g><line x1="517.1" y1="356" x2="517.1" y2="488" stroke="#000" stroke-width="3"/><line x1="508.6" y1="362" x2="517.1" y2="362" stroke="#000" stroke-width="3.4"/><text transform="translate(508.1,369.7) scale(0.87,1)" font-size="19.6" font-weight="bold" text-anchor="end" stroke="#000" stroke-width="0.3">6</text><line x1="508.6" y1="401.6" x2="517.1" y2="401.6" stroke="#000" stroke-width="3.4"/><text transform="translate(508.1,409.3) scale(0.87,1)" font-size="19.6" font-weight="bold" text-anchor="end" stroke="#000" stroke-width="0.3">4</text><line x1="508.6" y1="441.4" x2="517.1" y2="441.4" stroke="#000" stroke-width="3.4"/><text transform="translate(508.1,449.1) scale(0.87,1)" font-size="19.6" font-weight="bold" text-anchor="end" stroke="#000" stroke-width="0.3">2</text><line x1="508.6" y1="481.4" x2="517.1" y2="481.4" stroke="#000" stroke-width="3.4"/><text transform="translate(508.1,489.1) scale(0.87,1)" font-size="19.6" font-weight="bold" text-anchor="end" stroke="#000" stroke-width="0.3">0</text><text transform="translate(560.66,354.95)" font-size="24" font-weight="bold" text-anchor="start" textLength="94.9" lengthAdjust="spacingAndGlyphs" stroke="#000" stroke-width="0.35">Lysinimonas</text><rect x="529.8" y="477.8" width="42.8" height="3.2" fill="#fff" stroke="#F8766D" stroke-width="1.8"/><line x1="529.8" y1="479.5" x2="572.6" y2="479.5" stroke="#F8766D" stroke-width="3"/><circle cx="541.4" cy="480" r="2.3" fill="#F8766D" stroke="#000" stroke-width="1.15"/><circle cx="549" cy="476.4" r="2.3" fill="#F8766D" stroke="#000" stroke-width="1.15"/><circle cx="560.4" cy="481" r="2.3" fill="#F8766D" stroke="#000" stroke-width="1.15"/><text transform="translate(551,470.5) scale(0.88,1)" font-size="17" font-weight="normal" text-anchor="middle">a</text><line x1="608.4" y1="419.4" x2="608.4" y2="407" stroke="#00BA38" stroke-width="1.8"/><line x1="608.4" y1="438" x2="608.4" y2="443" stroke="#00BA38" stroke-width="1.8"/><rect x="587" y="419.4" width="42.8" height="18.6" fill="#fff" stroke="#00BA38" stroke-width="1.8"/><line x1="587" y1="432" x2="629.8" y2="432" stroke="#00BA38" stroke-width="3"/><circle cx="610" cy="407" r="2.3" fill="#00BA38" stroke="#000" stroke-width="1.15"/><circle cx="617.6" cy="432" r="2.3" fill="#00BA38" stroke="#000" stroke-width="1.15"/><circle cx="599.6" cy="443.6" r="2.3" fill="#00BA38" stroke="#000" stroke-width="1.15"/><text transform="translate(608,369.5) scale(0.88,1)" font-size="17" font-weight="normal" text-anchor="middle">a</text><line x1="665.6" y1="474" x2="665.6" y2="470" stroke="#619CFF" stroke-width="1.8"/><rect x="644.2" y="474" width="42.8" height="5.2" fill="#fff" stroke="#619CFF" stroke-width="1.8"/><line x1="644.2" y1="477" x2="687" y2="477" stroke="#619CFF" stroke-width="3"/><circle cx="659" cy="481" r="2.3" fill="#619CFF" stroke="#000" stroke-width="1.15"/><circle cx="669" cy="471" r="2.3" fill="#619CFF" stroke="#000" stroke-width="1.15"/><circle cx="669" cy="476" r="2.3" fill="#619CFF" stroke="#000" stroke-width="1.15"/><text transform="translate(665.4,460.1) scale(0.88,1)" font-size="17" font-weight="normal" text-anchor="middle">a</text></g>
<g><line x1="751.1" y1="356" x2="751.1" y2="488" stroke="#000" stroke-width="3"/><line x1="742.6" y1="363.4" x2="751.1" y2="363.4" stroke="#000" stroke-width="3.4"/><text transform="translate(742.1,371.1) scale(0.87,1)" font-size="19.6" font-weight="bold" text-anchor="end" stroke="#000" stroke-width="0.3">1.5</text><line x1="742.6" y1="402.6" x2="751.1" y2="402.6" stroke="#000" stroke-width="3.4"/><text transform="translate(742.1,410.3) scale(0.87,1)" font-size="19.6" font-weight="bold" text-anchor="end" stroke="#000" stroke-width="0.3">1.0</text><line x1="742.6" y1="442" x2="751.1" y2="442" stroke="#000" stroke-width="3.4"/><text transform="translate(742.1,449.7) scale(0.87,1)" font-size="19.6" font-weight="bold" text-anchor="end" stroke="#000" stroke-width="0.3">0.5</text><line x1="742.6" y1="481" x2="751.1" y2="481" stroke="#000" stroke-width="3.4"/><text transform="translate(742.1,488.7) scale(0.87,1)" font-size="19.6" font-weight="bold" text-anchor="end" stroke="#000" stroke-width="0.3">0.0</text><text transform="translate(805.68,354.95)" font-size="24" font-weight="bold" text-anchor="start" textLength="72.1" lengthAdjust="spacingAndGlyphs" stroke="#000" stroke-width="0.35">Nitrospira</text><rect x="763.8" y="479.8" width="42.8" height="1.6" fill="#fff" stroke="#F8766D" stroke-width="1.8"/><line x1="763.8" y1="480.6" x2="806.6" y2="480.6" stroke="#F8766D" stroke-width="3"/><circle cx="774.4" cy="480.6" r="2.3" fill="#F8766D" stroke="#000" stroke-width="1.15"/><circle cx="777.6" cy="480" r="2.3" fill="#F8766D" stroke="#000" stroke-width="1.15"/><circle cx="789.4" cy="481" r="2.3" fill="#F8766D" stroke="#000" stroke-width="1.15"/><text transform="translate(785,453.5) scale(0.88,1)" font-size="17" font-weight="normal" text-anchor="middle">a</text><rect x="821" y="478.5" width="42.8" height="3" fill="#fff" stroke="#00BA38" stroke-width="1.8"/><line x1="821" y1="480" x2="863.8" y2="480" stroke="#00BA38" stroke-width="3"/><circle cx="836.6" cy="476" r="2.3" fill="#00BA38" stroke="#000" stroke-width="1.15"/><circle cx="848.4" cy="481" r="2.3" fill="#00BA38" stroke="#000" stroke-width="1.15"/><circle cx="850.4" cy="481" r="2.3" fill="#00BA38" stroke="#000" stroke-width="1.15"/><text transform="translate(842.4,445.1) scale(0.88,1)" font-size="17" font-weight="normal" text-anchor="middle">a</text><line x1="899.6" y1="451" x2="899.6" y2="437" stroke="#619CFF" stroke-width="1.8"/><line x1="899.6" y1="473" x2="899.6" y2="481" stroke="#619CFF" stroke-width="1.8"/><rect x="878.2" y="451" width="42.8" height="22" fill="#fff" stroke="#619CFF" stroke-width="1.8"/><line x1="878.2" y1="465" x2="921" y2="465" stroke="#619CFF" stroke-width="3"/><circle cx="893.4" cy="437" r="2.3" fill="#619CFF" stroke="#000" stroke-width="1.15"/><circle cx="899" cy="465.4" r="2.3" fill="#619CFF" stroke="#000" stroke-width="1.15"/><circle cx="899.6" cy="481" r="2.3" fill="#619CFF" stroke="#000" stroke-width="1.15"/><text transform="translate(899.4,369.1) scale(0.88,1)" font-size="17" font-weight="normal" text-anchor="middle">a</text></g>
<g><line x1="971.6" y1="356" x2="971.6" y2="488.5" stroke="#000" stroke-width="3"/><line x1="963.1" y1="377.1" x2="971.6" y2="377.1" stroke="#000" stroke-width="3.4"/><text transform="translate(962.6,384.8) scale(0.87,1)" font-size="19.6" font-weight="bold" text-anchor="end" stroke="#000" stroke-width="0.3">30</text><line x1="963.1" y1="411.6" x2="971.6" y2="411.6" stroke="#000" stroke-width="3.4"/><text transform="translate(962.6,419.3) scale(0.87,1)" font-size="19.6" font-weight="bold" text-anchor="end" stroke="#000" stroke-width="0.3">20</text><line x1="963.1" y1="446.7" x2="971.6" y2="446.7" stroke="#000" stroke-width="3.4"/><text transform="translate(962.6,454.4) scale(0.87,1)" font-size="19.6" font-weight="bold" text-anchor="end" stroke="#000" stroke-width="0.3">10</text><line x1="963.1" y1="481.2" x2="971.6" y2="481.2" stroke="#000" stroke-width="3.4"/><text transform="translate(962.6,488.9) scale(0.87,1)" font-size="19.6" font-weight="bold" text-anchor="end" stroke="#000" stroke-width="0.3">0</text><line x1="970.1" y1="486.8" x2="1156.2" y2="486.8" stroke="#000" stroke-width="3.4"/><line x1="1005.7" y1="486.8" x2="1005.7" y2="496.8" stroke="#000" stroke-width="3.6"/><line x1="1062.9" y1="486.8" x2="1062.9" y2="496.8" stroke="#000" stroke-width="3.6"/><line x1="1120.1" y1="486.8" x2="1120.1" y2="496.8" stroke="#000" stroke-width="3.6"/><text transform="translate(988.96,354.95)" font-size="24" font-weight="bold" text-anchor="start" textLength="52.95" lengthAdjust="spacingAndGlyphs" stroke="#000" stroke-width="0.35">Nostoc</text><rect x="984.3" y="478" width="42.8" height="2" fill="#fff" stroke="#F8766D" stroke-width="1.8"/><line x1="984.3" y1="479" x2="1027.1" y2="479" stroke="#F8766D" stroke-width="3"/><circle cx="998.6" cy="480.1" r="2.3" fill="#F8766D" stroke="#000" stroke-width="1.15"/><circle cx="1007.4" cy="478.6" r="2.3" fill="#F8766D" stroke="#000" stroke-width="1.15"/><circle cx="1013.4" cy="478.6" r="2.3" fill="#F8766D" stroke="#000" stroke-width="1.15"/><text transform="translate(1005.7,480.1) scale(0.88,1)" font-size="17" font-weight="normal" text-anchor="middle">ab</text><line x1="1062.9" y1="418.8" x2="1062.9" y2="406" stroke="#00BA38" stroke-width="1.8"/><line x1="1062.9" y1="440.6" x2="1062.9" y2="447.8" stroke="#00BA38" stroke-width="1.8"/><rect x="1041.5" y="418.8" width="42.8" height="21.8" fill="#fff" stroke="#00BA38" stroke-width="1.8"/><line x1="1041.5" y1="432.4" x2="1084.3" y2="432.4" stroke="#00BA38" stroke-width="3"/><circle cx="1058.4" cy="405.6" r="2.3" fill="#00BA38" stroke="#000" stroke-width="1.15"/><circle cx="1051.4" cy="432.4" r="2.3" fill="#00BA38" stroke="#000" stroke-width="1.15"/><circle cx="1054" cy="448.3" r="2.3" fill="#00BA38" stroke="#000" stroke-width="1.15"/><text transform="translate(1062.8,369.3) scale(0.88,1)" font-size="17" font-weight="normal" text-anchor="middle">a</text><rect x="1098.7" y="480" width="42.8" height="1.6" fill="#fff" stroke="#619CFF" stroke-width="1.8"/><line x1="1098.7" y1="480.8" x2="1141.5" y2="480.8" stroke="#619CFF" stroke-width="3"/><circle cx="1115" cy="481.2" r="2.3" fill="#619CFF" stroke="#000" stroke-width="1.15"/><circle cx="1118.8" cy="481.2" r="2.3" fill="#619CFF" stroke="#000" stroke-width="1.15"/><circle cx="1120.5" cy="481" r="2.3" fill="#619CFF" stroke="#000" stroke-width="1.15"/><text transform="translate(1118.8,484.1) scale(0.88,1)" font-size="17" font-weight="normal" text-anchor="middle">b</text></g>
<g><line x1="72.1" y1="518" x2="72.1" y2="650.7" stroke="#000" stroke-width="3"/><line x1="63.6" y1="544.4" x2="72.1" y2="544.4" stroke="#000" stroke-width="3.4"/><text transform="translate(63.1,552.1) scale(0.87,1)" font-size="19.6" font-weight="bold" text-anchor="end" stroke="#000" stroke-width="0.3">6</text><line x1="63.6" y1="577" x2="72.1" y2="577" stroke="#000" stroke-width="3.4"/><text transform="translate(63.1,584.7) scale(0.87,1)" font-size="19.6" font-weight="bold" text-anchor="end" stroke="#000" stroke-width="0.3">4</text><line x1="63.6" y1="610" x2="72.1" y2="610" stroke="#000" stroke-width="3.4"/><text transform="translate(63.1,617.7) scale(0.87,1)" font-size="19.6" font-weight="bold" text-anchor="end" stroke="#000" stroke-width="0.3">2</text><line x1="63.6" y1="643" x2="72.1" y2="643" stroke="#000" stroke-width="3.4"/><text transform="translate(63.1,650.7) scale(0.87,1)" font-size="19.6" font-weight="bold" text-anchor="end" stroke="#000" stroke-width="0.3">0</text><line x1="70.6" y1="649" x2="256.8" y2="649" stroke="#000" stroke-width="3.4"/><line x1="106.2" y1="649" x2="106.2" y2="659" stroke="#000" stroke-width="3.6"/><line x1="163.4" y1="649" x2="163.4" y2="659" stroke="#000" stroke-width="3.6"/><line x1="220.6" y1="649" x2="220.6" y2="659" stroke="#000" stroke-width="3.6"/><text transform="translate(143.49,516.95)" font-size="24" font-weight="bold" text-anchor="start" textLength="38.91" lengthAdjust="spacingAndGlyphs" stroke="#000" stroke-width="0.35">RB41</text><rect x="84.8" y="642.2" width="42.8" height="1.6" fill="#fff" stroke="#F8766D" stroke-width="1.8"/><line x1="84.8" y1="643" x2="127.6" y2="643" stroke="#F8766D" stroke-width="3"/><circle cx="99.4" cy="643.4" r="2.3" fill="#F8766D" stroke="#000" stroke-width="1.15"/><circle cx="106" cy="643" r="2.3" fill="#F8766D" stroke="#000" stroke-width="1.15"/><circle cx="113" cy="643" r="2.3" fill="#F8766D" stroke="#000" stroke-width="1.15"/><text transform="translate(106.6,641.5) scale(0.88,1)" font-size="17" font-weight="normal" text-anchor="middle">b</text><rect x="142" y="639.2" width="42.8" height="1.6" fill="#fff" stroke="#00BA38" stroke-width="1.8"/><line x1="142" y1="640" x2="184.8" y2="640" stroke="#00BA38" stroke-width="3"/><circle cx="156" cy="641" r="2.3" fill="#00BA38" stroke="#000" stroke-width="1.15"/><circle cx="165.5" cy="640" r="2.3" fill="#00BA38" stroke="#000" stroke-width="1.15"/><circle cx="169.5" cy="640" r="2.3" fill="#00BA38" stroke="#000" stroke-width="1.15"/><text transform="translate(163,639.1) scale(0.88,1)" font-size="17" font-weight="normal" text-anchor="middle">ab</text><line x1="220.6" y1="581.4" x2="220.6" y2="570" stroke="#619CFF" stroke-width="1.8"/><line x1="220.6" y1="601" x2="220.6" y2="608.4" stroke="#619CFF" stroke-width="1.8"/><rect x="199.2" y="581.4" width="42.8" height="19.6" fill="#fff" stroke="#619CFF" stroke-width="1.8"/><line x1="199.2" y1="593" x2="242" y2="593" stroke="#619CFF" stroke-width="3"/><circle cx="227" cy="570" r="2.3" fill="#619CFF" stroke="#000" stroke-width="1.15"/><circle cx="220.6" cy="593.4" r="2.3" fill="#619CFF" stroke="#000" stroke-width="1.15"/><circle cx="209.6" cy="608.6" r="2.3" fill="#619CFF" stroke="#000" stroke-width="1.15"/><text transform="translate(220.5,532.1) scale(0.88,1)" font-size="17" font-weight="normal" text-anchor="middle">a</text></g>
<g><line x1="296.9" y1="518" x2="296.9" y2="650.7" stroke="#000" stroke-width="3"/><line x1="288.4" y1="547.6" x2="296.9" y2="547.6" stroke="#000" stroke-width="3.4"/><text transform="translate(287.9,555.3) scale(0.87,1)" font-size="19.6" font-weight="bold" text-anchor="end" stroke="#000" stroke-width="0.3">15</text><line x1="288.4" y1="580" x2="296.9" y2="580" stroke="#000" stroke-width="3.4"/><text transform="translate(287.9,587.7) scale(0.87,1)" font-size="19.6" font-weight="bold" text-anchor="end" stroke="#000" stroke-width="0.3">10</text><line x1="288.4" y1="612.4" x2="296.9" y2="612.4" stroke="#000" stroke-width="3.4"/><text transform="translate(287.9,620.1) scale(0.87,1)" font-size="19.6" font-weight="bold" text-anchor="end" stroke="#000" stroke-width="0.3">5</text><line x1="288.4" y1="645" x2="296.9" y2="645" stroke="#000" stroke-width="3.4"/><text transform="translate(287.9,652.7) scale(0.87,1)" font-size="19.6" font-weight="bold" text-anchor="end" stroke="#000" stroke-width="0.3">0</text><line x1="295.4" y1="649" x2="481" y2="649" stroke="#000" stroke-width="3.4"/><line x1="331" y1="649" x2="331" y2="659" stroke="#000" stroke-width="3.6"/><line x1="388.2" y1="649" x2="388.2" y2="659" stroke="#000" stroke-width="3.6"/><line x1="445.4" y1="649" x2="445.4" y2="659" stroke="#000" stroke-width="3.6"/><text transform="translate(330.66,516.95)" font-size="24" font-weight="bold" text-anchor="start" textLength="114.48" lengthAdjust="spacingAndGlyphs" stroke="#000" stroke-width="0.35">Rhodanobacter</text><line x1="331" y1="618" x2="331" y2="613" stroke="#F8766D" stroke-width="1.8"/><rect x="309.6" y="618" width="42.8" height="5.5" fill="#fff" stroke="#F8766D" stroke-width="1.8"/><line x1="309.6" y1="618.5" x2="352.4" y2="618.5" stroke="#F8766D" stroke-width="3"/><circle cx="329.4" cy="613" r="2.3" fill="#F8766D" stroke="#000" stroke-width="1.15"/><circle cx="326" cy="622.6" r="2.3" fill="#F8766D" stroke="#000" stroke-width="1.15"/><circle cx="330.6" cy="624.4" r="2.3" fill="#F8766D" stroke="#000" stroke-width="1.15"/><text transform="translate(331,604.9) scale(0.88,1)" font-size="17" font-weight="normal" text-anchor="middle">a</text><rect x="366.8" y="641.5" width="42.8" height="2.5" fill="#fff" stroke="#00BA38" stroke-width="1.8"/><line x1="366.8" y1="643" x2="409.6" y2="643" stroke="#00BA38" stroke-width="3"/><circle cx="380" cy="643.4" r="2.3" fill="#00BA38" stroke="#000" stroke-width="1.15"/><circle cx="391" cy="640.4" r="2.3" fill="#00BA38" stroke="#000" stroke-width="1.15"/><circle cx="396.4" cy="643.4" r="2.3" fill="#00BA38" stroke="#000" stroke-width="1.15"/><text transform="translate(388.4,640.5) scale(0.88,1)" font-size="17" font-weight="normal" text-anchor="middle">a</text><line x1="445.4" y1="598.6" x2="445.4" y2="578" stroke="#619CFF" stroke-width="1.8"/><line x1="445.4" y1="623.5" x2="445.4" y2="627.6" stroke="#619CFF" stroke-width="1.8"/><rect x="424" y="598.6" width="42.8" height="24.9" fill="#fff" stroke="#619CFF" stroke-width="1.8"/><line x1="424" y1="620" x2="466.8" y2="620" stroke="#619CFF" stroke-width="3"/><circle cx="447" cy="577.6" r="2.3" fill="#619CFF" stroke="#000" stroke-width="1.15"/><circle cx="434.6" cy="619.6" r="2.3" fill="#619CFF" stroke="#000" stroke-width="1.15"/><circle cx="437" cy="627.6" r="2.3" fill="#619CFF" stroke="#000" stroke-width="1.15"/><text transform="translate(445,532.1) scale(0.88,1)" font-size="17" font-weight="normal" text-anchor="middle">a</text></g>
<g><line x1="517.1" y1="518" x2="517.1" y2="650.7" stroke="#000" stroke-width="3"/><line x1="508.6" y1="525" x2="517.1" y2="525" stroke="#000" stroke-width="3.4"/><text transform="translate(508.1,532.7) scale(0.87,1)" font-size="19.6" font-weight="bold" text-anchor="end" stroke="#000" stroke-width="0.3">6</text><line x1="508.6" y1="564.4" x2="517.1" y2="564.4" stroke="#000" stroke-width="3.4"/><text transform="translate(508.1,572.1) scale(0.87,1)" font-size="19.6" font-weight="bold" text-anchor="end" stroke="#000" stroke-width="0.3">4</text><line x1="508.6" y1="604.4" x2="517.1" y2="604.4" stroke="#000" stroke-width="3.4"/><text transform="translate(508.1,612.1) scale(0.87,1)" font-size="19.6" font-weight="bold" text-anchor="end" stroke="#000" stroke-width="0.3">2</text><line x1="508.6" y1="644.6" x2="517.1" y2="644.6" stroke="#000" stroke-width="3.4"/><text transform="translate(508.1,652.3) scale(0.87,1)" font-size="19.6" font-weight="bold" text-anchor="end" stroke="#000" stroke-width="0.3">0</text><line x1="515.6" y1="649" x2="701.8" y2="649" stroke="#000" stroke-width="3.4"/><line x1="551.2" y1="649" x2="551.2" y2="659" stroke="#000" stroke-width="3.6"/><line x1="608.4" y1="649" x2="608.4" y2="659" stroke="#000" stroke-width="3.6"/><line x1="665.6" y1="649" x2="665.6" y2="659" stroke="#000" stroke-width="3.6"/><text transform="translate(552.29,516.95)" font-size="24" font-weight="bold" text-anchor="start" textLength="112.27" lengthAdjust="spacingAndGlyphs" stroke="#000" stroke-width="0.35">Sphingomonas</text><rect x="529.8" y="641.8" width="42.8" height="2.2" fill="#fff" stroke="#F8766D" stroke-width="1.8"/><line x1="529.8" y1="643" x2="572.6" y2="643" stroke="#F8766D" stroke-width="3"/><circle cx="547.4" cy="643" r="2.3" fill="#F8766D" stroke="#000" stroke-width="1.15"/><circle cx="553.6" cy="643.4" r="2.3" fill="#F8766D" stroke="#000" stroke-width="1.15"/><circle cx="558" cy="641.4" r="2.3" fill="#F8766D" stroke="#000" stroke-width="1.15"/><text transform="translate(551,637.9) scale(0.88,1)" font-size="17" font-weight="normal" text-anchor="middle">b</text><rect x="587" y="614" width="42.8" height="3" fill="#fff" stroke="#00BA38" stroke-width="1.8"/><line x1="587" y1="615.5" x2="629.8" y2="615.5" stroke="#00BA38" stroke-width="3"/><circle cx="602" cy="616" r="2.3" fill="#00BA38" stroke="#000" stroke-width="1.15"/><circle cx="608" cy="612" r="2.3" fill="#00BA38" stroke="#000" stroke-width="1.15"/><circle cx="608" cy="616.4" r="2.3" fill="#00BA38" stroke="#000" stroke-width="1.15"/><text transform="translate(608,607.5) scale(0.88,1)" font-size="17" font-weight="normal" text-anchor="middle">ab</text><line x1="665.6" y1="581.4" x2="665.6" y2="577.6" stroke="#619CFF" stroke-width="1.8"/><line x1="665.6" y1="600.6" x2="665.6" y2="615.6" stroke="#619CFF" stroke-width="1.8"/><rect x="644.2" y="581.4" width="42.8" height="19.2" fill="#fff" stroke="#619CFF" stroke-width="1.8"/><line x1="644.2" y1="586" x2="687" y2="586" stroke="#619CFF" stroke-width="3"/><circle cx="676" cy="577.6" r="2.3" fill="#619CFF" stroke="#000" stroke-width="1.15"/><circle cx="673.6" cy="586.6" r="2.3" fill="#619CFF" stroke="#000" stroke-width="1.15"/><circle cx="655" cy="615.6" r="2.3" fill="#619CFF" stroke="#000" stroke-width="1.15"/><text transform="translate(665.4,532.1) scale(0.88,1)" font-size="17" font-weight="normal" text-anchor="middle">a</text></g>
<g><line x1="751.1" y1="518" x2="751.1" y2="650.7" stroke="#000" stroke-width="3"/><line x1="742.6" y1="548.4" x2="751.1" y2="548.4" stroke="#000" stroke-width="3.4"/><text transform="translate(742.1,556.1) scale(0.87,1)" font-size="19.6" font-weight="bold" text-anchor="end" stroke="#000" stroke-width="0.3">6</text><line x1="742.6" y1="580" x2="751.1" y2="580" stroke="#000" stroke-width="3.4"/><text transform="translate(742.1,587.7) scale(0.87,1)" font-size="19.6" font-weight="bold" text-anchor="end" stroke="#000" stroke-width="0.3">4</text><line x1="742.6" y1="611.4" x2="751.1" y2="611.4" stroke="#000" stroke-width="3.4"/><text transform="translate(742.1,619.1) scale(0.87,1)" font-size="19.6" font-weight="bold" text-anchor="end" stroke="#000" stroke-width="0.3">2</text><line x1="742.6" y1="643" x2="751.1" y2="643" stroke="#000" stroke-width="3.4"/><text transform="translate(742.1,650.7) scale(0.87,1)" font-size="19.6" font-weight="bold" text-anchor="end" stroke="#000" stroke-width="0.3">0</text><line x1="749.6" y1="649" x2="936" y2="649" stroke="#000" stroke-width="3.4"/><line x1="785.2" y1="649" x2="785.2" y2="659" stroke="#000" stroke-width="3.6"/><line x1="842.4" y1="649" x2="842.4" y2="659" stroke="#000" stroke-width="3.6"/><line x1="899.6" y1="649" x2="899.6" y2="659" stroke="#000" stroke-width="3.6"/><text transform="translate(810.15,516.95)" font-size="24" font-weight="bold" text-anchor="start" textLength="65.8" lengthAdjust="spacingAndGlyphs" stroke="#000" stroke-width="0.35">wb1−P19</text><rect x="763.8" y="642.2" width="42.8" height="1.6" fill="#fff" stroke="#F8766D" stroke-width="1.8"/><line x1="763.8" y1="643" x2="806.6" y2="643" stroke="#F8766D" stroke-width="3"/><circle cx="774.4" cy="643.4" r="2.3" fill="#F8766D" stroke="#000" stroke-width="1.15"/><circle cx="785.6" cy="643" r="2.3" fill="#F8766D" stroke="#000" stroke-width="1.15"/><circle cx="786.5" cy="643.4" r="2.3" fill="#F8766D" stroke="#000" stroke-width="1.15"/><text transform="translate(785,641.5) scale(0.88,1)" font-size="17" font-weight="normal" text-anchor="middle">a</text><rect x="821" y="642.2" width="42.8" height="1.6" fill="#fff" stroke="#00BA38" stroke-width="1.8"/><line x1="821" y1="643" x2="863.8" y2="643" stroke="#00BA38" stroke-width="3"/><circle cx="831" cy="643.4" r="2.3" fill="#00BA38" stroke="#000" stroke-width="1.15"/><circle cx="848.4" cy="643" r="2.3" fill="#00BA38" stroke="#000" stroke-width="1.15"/><circle cx="852.4" cy="643" r="2.3" fill="#00BA38" stroke="#000" stroke-width="1.15"/><text transform="translate(842.4,641.5) scale(0.88,1)" font-size="17" font-weight="normal" text-anchor="middle">a</text><line x1="899.6" y1="592.6" x2="899.6" y2="574" stroke="#619CFF" stroke-width="1.8"/><rect x="878.2" y="592.6" width="42.8" height="19.9" fill="#fff" stroke="#619CFF" stroke-width="1.8"/><line x1="878.2" y1="610.5" x2="921" y2="610.5" stroke="#619CFF" stroke-width="3"/><circle cx="905" cy="574" r="2.3" fill="#619CFF" stroke="#000" stroke-width="1.15"/><circle cx="901" cy="611.4" r="2.3" fill="#619CFF" stroke="#000" stroke-width="1.15"/><circle cx="896" cy="615.4" r="2.3" fill="#619CFF" stroke="#000" stroke-width="1.15"/><text transform="translate(899.4,532.1) scale(0.88,1)" font-size="17" font-weight="normal" text-anchor="middle">a</text></g>
<g><line x1="83.5" y1="791" x2="83.5" y2="925" stroke="#000" stroke-width="3"/><line x1="73.7" y1="813.4" x2="83.5" y2="813.4" stroke="#000" stroke-width="3.4"/><text transform="translate(72.5,820.7)" font-size="19.6" font-weight="bold" text-anchor="end">0.6</text><line x1="73.7" y1="847.6" x2="83.5" y2="847.6" stroke="#000" stroke-width="3.4"/><text transform="translate(72.5,854.9)" font-size="19.6" font-weight="bold" text-anchor="end">0.4</text><line x1="73.7" y1="882" x2="83.5" y2="882" stroke="#000" stroke-width="3.4"/><text transform="translate(72.5,889.3)" font-size="19.6" font-weight="bold" text-anchor="end">0.2</text><line x1="73.7" y1="917" x2="83.5" y2="917" stroke="#000" stroke-width="3.4"/><text transform="translate(72.5,924.3)" font-size="19.6" font-weight="bold" text-anchor="end">0.0</text><text transform="translate(113.95,790)" font-size="24" font-weight="bold" text-anchor="start" textLength="107.49" lengthAdjust="spacingAndGlyphs" stroke="#000" stroke-width="0.35">Acremonium</text><rect x="95.5" y="916.2" width="39.2" height="1.6" fill="#fff" stroke="#F8766D" stroke-width="1.8"/><line x1="95.5" y1="917" x2="134.7" y2="917" stroke="#F8766D" stroke-width="3"/><circle cx="109" cy="917" r="2.3" fill="#F8766D" stroke="#000" stroke-width="1.15"/><circle cx="112.4" cy="917" r="2.3" fill="#F8766D" stroke="#000" stroke-width="1.15"/><circle cx="116" cy="917" r="2.3" fill="#F8766D" stroke="#000" stroke-width="1.15"/><text transform="translate(115,853.5) scale(0.9,1)" font-size="17.5" font-weight="normal" text-anchor="middle">a</text><rect x="148.4" y="911.5" width="39.2" height="2" fill="#fff" stroke="#00BA38" stroke-width="1.8"/><line x1="148.4" y1="912.5" x2="187.6" y2="912.5" stroke="#00BA38" stroke-width="3"/><circle cx="167.4" cy="909.6" r="2.3" fill="#00BA38" stroke="#000" stroke-width="1.15"/><circle cx="168.6" cy="914" r="2.3" fill="#00BA38" stroke="#000" stroke-width="1.15"/><circle cx="173.4" cy="913" r="2.3" fill="#00BA38" stroke="#000" stroke-width="1.15"/><text transform="translate(167.4,842.1) scale(0.9,1)" font-size="17.5" font-weight="normal" text-anchor="middle">a</text><line x1="220.8" y1="904.6" x2="220.8" y2="893.4" stroke="#619CFF" stroke-width="1.8"/><rect x="201.2" y="904.6" width="39.2" height="13.4" fill="#fff" stroke="#619CFF" stroke-width="1.8"/><line x1="201.2" y1="916.5" x2="240.4" y2="916.5" stroke="#619CFF" stroke-width="3"/><circle cx="225" cy="893" r="2.3" fill="#619CFF" stroke="#000" stroke-width="1.15"/><circle cx="211" cy="917.4" r="2.3" fill="#619CFF" stroke="#000" stroke-width="1.15"/><circle cx="217.6" cy="917.4" r="2.3" fill="#619CFF" stroke="#000" stroke-width="1.15"/><text transform="translate(220.4,804.1) scale(0.9,1)" font-size="17.5" font-weight="normal" text-anchor="middle">a</text></g>
<g><line x1="301.1" y1="791" x2="301.1" y2="925" stroke="#000" stroke-width="3"/><line x1="291.3" y1="822.4" x2="301.1" y2="822.4" stroke="#000" stroke-width="3.4"/><text transform="translate(290.1,829.7)" font-size="19.6" font-weight="bold" text-anchor="end">1.5</text><line x1="291.3" y1="853.4" x2="301.1" y2="853.4" stroke="#000" stroke-width="3.4"/><text transform="translate(290.1,860.7)" font-size="19.6" font-weight="bold" text-anchor="end">1.0</text><line x1="291.3" y1="885" x2="301.1" y2="885" stroke="#000" stroke-width="3.4"/><text transform="translate(290.1,892.3)" font-size="19.6" font-weight="bold" text-anchor="end">0.5</text><line x1="291.3" y1="917" x2="301.1" y2="917" stroke="#000" stroke-width="3.4"/><text transform="translate(290.1,924.3)" font-size="19.6" font-weight="bold" text-anchor="end">0.0</text><text transform="translate(346.65,790)" font-size="24" font-weight="bold" text-anchor="start" textLength="125.37" lengthAdjust="spacingAndGlyphs" stroke="#000" stroke-width="0.35">Antarctomyces</text><rect x="313.1" y="915.6" width="39.2" height="1.6" fill="#fff" stroke="#F8766D" stroke-width="1.8"/><line x1="313.1" y1="916.4" x2="352.3" y2="916.4" stroke="#F8766D" stroke-width="3"/><circle cx="323.4" cy="916.4" r="2.3" fill="#F8766D" stroke="#000" stroke-width="1.15"/><circle cx="332.6" cy="916.4" r="2.3" fill="#F8766D" stroke="#000" stroke-width="1.15"/><circle cx="336.4" cy="916.4" r="2.3" fill="#F8766D" stroke="#000" stroke-width="1.15"/><text transform="translate(332.6,896.5) scale(0.9,1)" font-size="17.5" font-weight="normal" text-anchor="middle">a</text><line x1="385.6" y1="910.6" x2="385.6" y2="914" stroke="#00BA38" stroke-width="1.8"/><rect x="366" y="906.8" width="39.2" height="3.8" fill="#fff" stroke="#00BA38" stroke-width="1.8"/><line x1="366" y1="907.8" x2="405.2" y2="907.8" stroke="#00BA38" stroke-width="3"/><circle cx="376" cy="907.4" r="2.3" fill="#00BA38" stroke="#000" stroke-width="1.15"/><circle cx="391" cy="907.4" r="2.3" fill="#00BA38" stroke="#000" stroke-width="1.15"/><circle cx="375.4" cy="914" r="2.3" fill="#00BA38" stroke="#000" stroke-width="1.15"/><text transform="translate(385.4,878.5) scale(0.9,1)" font-size="17.5" font-weight="normal" text-anchor="middle">a</text><line x1="438.4" y1="894" x2="438.4" y2="872" stroke="#619CFF" stroke-width="1.8"/><rect x="418.8" y="894" width="39.2" height="23" fill="#fff" stroke="#619CFF" stroke-width="1.8"/><line x1="418.8" y1="915.5" x2="458" y2="915.5" stroke="#619CFF" stroke-width="3"/><circle cx="432.6" cy="871.6" r="2.3" fill="#619CFF" stroke="#000" stroke-width="1.15"/><circle cx="440.6" cy="916" r="2.3" fill="#619CFF" stroke="#000" stroke-width="1.15"/><circle cx="442" cy="917.4" r="2.3" fill="#619CFF" stroke="#000" stroke-width="1.15"/><text transform="translate(438,804.1) scale(0.9,1)" font-size="17.5" font-weight="normal" text-anchor="middle">a</text></g>
<g><line x1="529.1" y1="791" x2="529.1" y2="925" stroke="#000" stroke-width="3"/><line x1="519.3" y1="793" x2="529.1" y2="793" stroke="#000" stroke-width="3.4"/><text transform="translate(518.1,800.3)" font-size="19.6" font-weight="bold" text-anchor="end">12</text><line x1="519.3" y1="824.4" x2="529.1" y2="824.4" stroke="#000" stroke-width="3.4"/><text transform="translate(518.1,831.7)" font-size="19.6" font-weight="bold" text-anchor="end">9</text><line x1="519.3" y1="855.6" x2="529.1" y2="855.6" stroke="#000" stroke-width="3.4"/><text transform="translate(518.1,862.9)" font-size="19.6" font-weight="bold" text-anchor="end">6</text><line x1="519.3" y1="886.4" x2="529.1" y2="886.4" stroke="#000" stroke-width="3.4"/><text transform="translate(518.1,893.7)" font-size="19.6" font-weight="bold" text-anchor="end">3</text><line x1="519.3" y1="917" x2="529.1" y2="917" stroke="#000" stroke-width="3.4"/><text transform="translate(518.1,924.3)" font-size="19.6" font-weight="bold" text-anchor="end">0</text><text transform="translate(577.65,790)" font-size="24" font-weight="bold" text-anchor="start" textLength="71.11" lengthAdjust="spacingAndGlyphs" stroke="#000" stroke-width="0.35">Arrhenia</text><rect x="541.1" y="916.2" width="39.2" height="1.6" fill="#fff" stroke="#F8766D" stroke-width="1.8"/><line x1="541.1" y1="917" x2="580.3" y2="917" stroke="#F8766D" stroke-width="3"/><circle cx="551" cy="917" r="2.3" fill="#F8766D" stroke="#000" stroke-width="1.15"/><circle cx="566.6" cy="917" r="2.3" fill="#F8766D" stroke="#000" stroke-width="1.15"/><circle cx="569.6" cy="917" r="2.3" fill="#F8766D" stroke="#000" stroke-width="1.15"/><text transform="translate(561,919.5) scale(0.9,1)" font-size="17.5" font-weight="normal" text-anchor="middle">ab</text><line x1="613.6" y1="863.4" x2="613.6" y2="853.6" stroke="#00BA38" stroke-width="1.8"/><line x1="613.6" y1="887" x2="613.6" y2="902" stroke="#00BA38" stroke-width="1.8"/><rect x="594" y="863.4" width="39.2" height="23.6" fill="#fff" stroke="#00BA38" stroke-width="1.8"/><line x1="594" y1="872.4" x2="633.2" y2="872.4" stroke="#00BA38" stroke-width="3"/><circle cx="619.4" cy="853.4" r="2.3" fill="#00BA38" stroke="#000" stroke-width="1.15"/><circle cx="622.6" cy="872.4" r="2.3" fill="#00BA38" stroke="#000" stroke-width="1.15"/><circle cx="609.6" cy="902" r="2.3" fill="#00BA38" stroke="#000" stroke-width="1.15"/><text transform="translate(613.6,804.1) scale(0.9,1)" font-size="17.5" font-weight="normal" text-anchor="middle">a</text><rect x="646.8" y="916.2" width="39.2" height="1.6" fill="#fff" stroke="#619CFF" stroke-width="1.8"/><line x1="646.8" y1="917" x2="686" y2="917" stroke="#619CFF" stroke-width="3"/><circle cx="657" cy="917.4" r="2.3" fill="#619CFF" stroke="#000" stroke-width="1.15"/><circle cx="661.6" cy="917.4" r="2.3" fill="#619CFF" stroke="#000" stroke-width="1.15"/><circle cx="662" cy="917.4" r="2.3" fill="#619CFF" stroke="#000" stroke-width="1.15"/><text transform="translate(667,919.5) scale(0.9,1)" font-size="17.5" font-weight="normal" text-anchor="middle">b</text></g>
<g><line x1="747.1" y1="791" x2="747.1" y2="925" stroke="#000" stroke-width="3"/><line x1="737.3" y1="794.6" x2="747.1" y2="794.6" stroke="#000" stroke-width="3.4"/><text transform="translate(736.1,801.9)" font-size="19.6" font-weight="bold" text-anchor="end">25</text><line x1="737.3" y1="819" x2="747.1" y2="819" stroke="#000" stroke-width="3.4"/><text transform="translate(736.1,826.3)" font-size="19.6" font-weight="bold" text-anchor="end">20</text><line x1="737.3" y1="843.6" x2="747.1" y2="843.6" stroke="#000" stroke-width="3.4"/><text transform="translate(736.1,850.9)" font-size="19.6" font-weight="bold" text-anchor="end">15</text><line x1="737.3" y1="868" x2="747.1" y2="868" stroke="#000" stroke-width="3.4"/><text transform="translate(736.1,875.3)" font-size="19.6" font-weight="bold" text-anchor="end">10</text><line x1="737.3" y1="892.4" x2="747.1" y2="892.4" stroke="#000" stroke-width="3.4"/><text transform="translate(736.1,899.7)" font-size="19.6" font-weight="bold" text-anchor="end">5</text><line x1="737.3" y1="917" x2="747.1" y2="917" stroke="#000" stroke-width="3.4"/><text transform="translate(736.1,924.3)" font-size="19.6" font-weight="bold" text-anchor="end">0</text><text transform="translate(774.95,790)" font-size="24" font-weight="bold" text-anchor="start" textLength="112.68" lengthAdjust="spacingAndGlyphs" stroke="#000" stroke-width="0.35">Brachyphoris</text><rect x="759.1" y="916.2" width="39.2" height="1.6" fill="#fff" stroke="#F8766D" stroke-width="1.8"/><line x1="759.1" y1="917" x2="798.3" y2="917" stroke="#F8766D" stroke-width="3"/><circle cx="771" cy="917" r="2.3" fill="#F8766D" stroke="#000" stroke-width="1.15"/><circle cx="779" cy="917" r="2.3" fill="#F8766D" stroke="#000" stroke-width="1.15"/><circle cx="782" cy="917" r="2.3" fill="#F8766D" stroke="#000" stroke-width="1.15"/><text transform="translate(779,920.5) scale(0.9,1)" font-size="17.5" font-weight="normal" text-anchor="middle">ab</text><line x1="831.6" y1="871.4" x2="831.6" y2="857" stroke="#00BA38" stroke-width="1.8"/><line x1="831.6" y1="899.4" x2="831.6" y2="913.4" stroke="#00BA38" stroke-width="1.8"/><rect x="812" y="871.4" width="39.2" height="28" fill="#fff" stroke="#00BA38" stroke-width="1.8"/><line x1="812" y1="886" x2="851.2" y2="886" stroke="#00BA38" stroke-width="3"/><circle cx="833.6" cy="856.6" r="2.3" fill="#00BA38" stroke="#000" stroke-width="1.15"/><circle cx="833" cy="886" r="2.3" fill="#00BA38" stroke="#000" stroke-width="1.15"/><circle cx="835.4" cy="913.4" r="2.3" fill="#00BA38" stroke="#000" stroke-width="1.15"/><text transform="translate(831.4,804.5) scale(0.9,1)" font-size="17.5" font-weight="normal" text-anchor="middle">a</text><rect x="864.8" y="916.2" width="39.2" height="1.6" fill="#fff" stroke="#619CFF" stroke-width="1.8"/><line x1="864.8" y1="917" x2="904" y2="917" stroke="#619CFF" stroke-width="3"/><circle cx="875.4" cy="917.4" r="2.3" fill="#619CFF" stroke="#000" stroke-width="1.15"/><circle cx="884.4" cy="917.4" r="2.3" fill="#619CFF" stroke="#000" stroke-width="1.15"/><circle cx="888" cy="917.4" r="2.3" fill="#619CFF" stroke="#000" stroke-width="1.15"/><text transform="translate(884.4,919.9) scale(0.9,1)" font-size="17.5" font-weight="normal" text-anchor="middle">b</text></g>
<g><line x1="965" y1="791" x2="965" y2="925" stroke="#000" stroke-width="3"/><line x1="955.2" y1="801.7" x2="965" y2="801.7" stroke="#000" stroke-width="3.4"/><text transform="translate(954,809)" font-size="19.6" font-weight="bold" text-anchor="end">0.6</text><line x1="955.2" y1="840.6" x2="965" y2="840.6" stroke="#000" stroke-width="3.4"/><text transform="translate(954,847.9)" font-size="19.6" font-weight="bold" text-anchor="end">0.4</text><line x1="955.2" y1="879.3" x2="965" y2="879.3" stroke="#000" stroke-width="3.4"/><text transform="translate(954,886.6)" font-size="19.6" font-weight="bold" text-anchor="end">0.2</text><line x1="955.2" y1="917.7" x2="965" y2="917.7" stroke="#000" stroke-width="3.4"/><text transform="translate(954,925)" font-size="19.6" font-weight="bold" text-anchor="end">0.0</text><text transform="translate(993.66,790)" font-size="24" font-weight="bold" text-anchor="start" textLength="109.5" lengthAdjust="spacingAndGlyphs" stroke="#000" stroke-width="0.35">Buckleyzyma</text><line x1="996.6" y1="906.1" x2="996.6" y2="896.6" stroke="#F8766D" stroke-width="1.8"/><rect x="977" y="906.1" width="39.2" height="10.5" fill="#fff" stroke="#F8766D" stroke-width="1.8"/><line x1="977" y1="915.5" x2="1016.2" y2="915.5" stroke="#F8766D" stroke-width="3"/><circle cx="996.9" cy="896.2" r="2.3" fill="#F8766D" stroke="#000" stroke-width="1.15"/><circle cx="985.9" cy="916" r="2.3" fill="#F8766D" stroke="#000" stroke-width="1.15"/><circle cx="990.3" cy="916" r="2.3" fill="#F8766D" stroke="#000" stroke-width="1.15"/><text transform="translate(996.5,804.5) scale(0.9,1)" font-size="17.5" font-weight="normal" text-anchor="middle">a</text><rect x="1029.9" y="908.8" width="39.2" height="2.4" fill="#fff" stroke="#00BA38" stroke-width="1.8"/><line x1="1029.9" y1="910" x2="1069.1" y2="910" stroke="#00BA38" stroke-width="3"/><circle cx="1042.4" cy="909.4" r="2.3" fill="#00BA38" stroke="#000" stroke-width="1.15"/><circle cx="1046.3" cy="907.8" r="2.3" fill="#00BA38" stroke="#000" stroke-width="1.15"/><circle cx="1047" cy="913.1" r="2.3" fill="#00BA38" stroke="#000" stroke-width="1.15"/><text transform="translate(1049.2,831.5) scale(0.9,1)" font-size="17.5" font-weight="normal" text-anchor="middle">a</text><rect x="1082.7" y="913.3" width="39.2" height="4.9" fill="#fff" stroke="#619CFF" stroke-width="1.8"/><line x1="1082.7" y1="915.5" x2="1121.9" y2="915.5" stroke="#619CFF" stroke-width="3"/><circle cx="1105" cy="911" r="2.3" fill="#619CFF" stroke="#000" stroke-width="1.15"/><circle cx="1104.5" cy="917.5" r="2.3" fill="#619CFF" stroke="#000" stroke-width="1.15"/><circle cx="1111.6" cy="917.5" r="2.3" fill="#619CFF" stroke="#000" stroke-width="1.15"/><text transform="translate(1101.9,832.5) scale(0.9,1)" font-size="17.5" font-weight="normal" text-anchor="middle">a</text></g>
<g><line x1="83.5" y1="955" x2="83.5" y2="1088" stroke="#000" stroke-width="3"/><line x1="73.7" y1="966.6" x2="83.5" y2="966.6" stroke="#000" stroke-width="3.4"/><text transform="translate(72.5,973.9)" font-size="19.6" font-weight="bold" text-anchor="end">60</text><line x1="73.7" y1="1005" x2="83.5" y2="1005" stroke="#000" stroke-width="3.4"/><text transform="translate(72.5,1012.3)" font-size="19.6" font-weight="bold" text-anchor="end">40</text><line x1="73.7" y1="1043" x2="83.5" y2="1043" stroke="#000" stroke-width="3.4"/><text transform="translate(72.5,1050.3)" font-size="19.6" font-weight="bold" text-anchor="end">20</text><line x1="73.7" y1="1080.6" x2="83.5" y2="1080.6" stroke="#000" stroke-width="3.4"/><text transform="translate(72.5,1087.9)" font-size="19.6" font-weight="bold" text-anchor="end">0</text><text transform="translate(120.96,954)" font-size="24" font-weight="bold" text-anchor="start" textLength="92.4" lengthAdjust="spacingAndGlyphs" stroke="#000" stroke-width="0.35">Byssoloma</text><rect x="95.5" y="1079.8" width="39.2" height="1.6" fill="#fff" stroke="#F8766D" stroke-width="1.8"/><line x1="95.5" y1="1080.6" x2="134.7" y2="1080.6" stroke="#F8766D" stroke-width="3"/><circle cx="110" cy="1080.6" r="2.3" fill="#F8766D" stroke="#000" stroke-width="1.15"/><circle cx="121" cy="1080.6" r="2.3" fill="#F8766D" stroke="#000" stroke-width="1.15"/><circle cx="122" cy="1080.6" r="2.3" fill="#F8766D" stroke="#000" stroke-width="1.15"/><text transform="translate(115,1087.5) scale(0.9,1)" font-size="17.5" font-weight="normal" text-anchor="middle">ab</text><line x1="168" y1="1048.4" x2="168" y2="1022" stroke="#00BA38" stroke-width="1.8"/><rect x="148.4" y="1048.4" width="39.2" height="28.6" fill="#fff" stroke="#00BA38" stroke-width="1.8"/><line x1="148.4" y1="1075.5" x2="187.6" y2="1075.5" stroke="#00BA38" stroke-width="3"/><circle cx="159.4" cy="1022" r="2.3" fill="#00BA38" stroke="#000" stroke-width="1.15"/><circle cx="162.6" cy="1074.6" r="2.3" fill="#00BA38" stroke="#000" stroke-width="1.15"/><circle cx="160.6" cy="1079" r="2.3" fill="#00BA38" stroke="#000" stroke-width="1.15"/><text transform="translate(167.4,968.5) scale(0.9,1)" font-size="17.5" font-weight="normal" text-anchor="middle">a</text><rect x="201.2" y="1079.8" width="39.2" height="1.6" fill="#fff" stroke="#619CFF" stroke-width="1.8"/><line x1="201.2" y1="1080.6" x2="240.4" y2="1080.6" stroke="#619CFF" stroke-width="3"/><circle cx="213" cy="1080.6" r="2.3" fill="#619CFF" stroke="#000" stroke-width="1.15"/><circle cx="227" cy="1080.6" r="2.3" fill="#619CFF" stroke="#000" stroke-width="1.15"/><circle cx="229" cy="1080.6" r="2.3" fill="#619CFF" stroke="#000" stroke-width="1.15"/><text transform="translate(220,1087.5) scale(0.9,1)" font-size="17.5" font-weight="normal" text-anchor="middle">b</text></g>
<g><line x1="301.1" y1="955" x2="301.1" y2="1088" stroke="#000" stroke-width="3"/><line x1="291.3" y1="976" x2="301.1" y2="976" stroke="#000" stroke-width="3.4"/><text transform="translate(290.1,983.3)" font-size="19.6" font-weight="bold" text-anchor="end">20</text><line x1="291.3" y1="1002" x2="301.1" y2="1002" stroke="#000" stroke-width="3.4"/><text transform="translate(290.1,1009.3)" font-size="19.6" font-weight="bold" text-anchor="end">15</text><line x1="291.3" y1="1028" x2="301.1" y2="1028" stroke="#000" stroke-width="3.4"/><text transform="translate(290.1,1035.3)" font-size="19.6" font-weight="bold" text-anchor="end">10</text><line x1="291.3" y1="1054" x2="301.1" y2="1054" stroke="#000" stroke-width="3.4"/><text transform="translate(290.1,1061.3)" font-size="19.6" font-weight="bold" text-anchor="end">5</text><line x1="291.3" y1="1080.6" x2="301.1" y2="1080.6" stroke="#000" stroke-width="3.4"/><text transform="translate(290.1,1087.9)" font-size="19.6" font-weight="bold" text-anchor="end">0</text><text transform="translate(343.91,954)" font-size="24" font-weight="bold" text-anchor="start" textLength="82.45" lengthAdjust="spacingAndGlyphs" stroke="#000" stroke-width="0.35">Candelina</text><rect x="313.1" y="1079.8" width="39.2" height="1.6" fill="#fff" stroke="#F8766D" stroke-width="1.8"/><line x1="313.1" y1="1080.6" x2="352.3" y2="1080.6" stroke="#F8766D" stroke-width="3"/><circle cx="334" cy="1080.6" r="2.3" fill="#F8766D" stroke="#000" stroke-width="1.15"/><circle cx="340" cy="1080.6" r="2.3" fill="#F8766D" stroke="#000" stroke-width="1.15"/><circle cx="341.4" cy="1080.6" r="2.3" fill="#F8766D" stroke="#000" stroke-width="1.15"/><text transform="translate(332.6,1085.5) scale(0.9,1)" font-size="17.5" font-weight="normal" text-anchor="middle">ab</text><line x1="385.6" y1="1052" x2="385.6" y2="1024" stroke="#00BA38" stroke-width="1.8"/><rect x="366" y="1052" width="39.2" height="29" fill="#fff" stroke="#00BA38" stroke-width="1.8"/><line x1="366" y1="1079.5" x2="405.2" y2="1079.5" stroke="#00BA38" stroke-width="3"/><circle cx="392.6" cy="1024" r="2.3" fill="#00BA38" stroke="#000" stroke-width="1.15"/><circle cx="387.4" cy="1080.4" r="2.3" fill="#00BA38" stroke="#000" stroke-width="1.15"/><circle cx="392.6" cy="1080.4" r="2.3" fill="#00BA38" stroke="#000" stroke-width="1.15"/><text transform="translate(385.4,968.5) scale(0.9,1)" font-size="17.5" font-weight="normal" text-anchor="middle">a</text><rect x="418.8" y="1079.8" width="39.2" height="1.6" fill="#fff" stroke="#619CFF" stroke-width="1.8"/><line x1="418.8" y1="1080.6" x2="458" y2="1080.6" stroke="#619CFF" stroke-width="3"/><circle cx="430" cy="1080.4" r="2.3" fill="#619CFF" stroke="#000" stroke-width="1.15"/><circle cx="437" cy="1080.4" r="2.3" fill="#619CFF" stroke="#000" stroke-width="1.15"/><circle cx="447.6" cy="1080.4" r="2.3" fill="#619CFF" stroke="#000" stroke-width="1.15"/><text transform="translate(438,1084.5) scale(0.9,1)" font-size="17.5" font-weight="normal" text-anchor="middle">b</text></g>
<g><line x1="529.1" y1="955" x2="529.1" y2="1088" stroke="#000" stroke-width="3"/><line x1="519.3" y1="959" x2="529.1" y2="959" stroke="#000" stroke-width="3.4"/><text transform="translate(518.1,966.3)" font-size="19.6" font-weight="bold" text-anchor="end">1.25</text><line x1="519.3" y1="983.6" x2="529.1" y2="983.6" stroke="#000" stroke-width="3.4"/><text transform="translate(518.1,990.9)" font-size="19.6" font-weight="bold" text-anchor="end">1.00</text><line x1="519.3" y1="1007.6" x2="529.1" y2="1007.6" stroke="#000" stroke-width="3.4"/><text transform="translate(518.1,1014.9)" font-size="19.6" font-weight="bold" text-anchor="end">0.75</text><line x1="519.3" y1="1032.4" x2="529.1" y2="1032.4" stroke="#000" stroke-width="3.4"/><text transform="translate(518.1,1039.7)" font-size="19.6" font-weight="bold" text-anchor="end">0.50</text><line x1="519.3" y1="1056.4" x2="529.1" y2="1056.4" stroke="#000" stroke-width="3.4"/><text transform="translate(518.1,1063.7)" font-size="19.6" font-weight="bold" text-anchor="end">0.25</text><line x1="519.3" y1="1080.4" x2="529.1" y2="1080.4" stroke="#000" stroke-width="3.4"/><text transform="translate(518.1,1087.7)" font-size="19.6" font-weight="bold" text-anchor="end">0.00</text><text transform="translate(586.98,954)" font-size="24" font-weight="bold" text-anchor="start" textLength="52.78" lengthAdjust="spacingAndGlyphs" stroke="#000" stroke-width="0.35">Knufia</text><rect x="541.1" y="1079.6" width="39.2" height="1.6" fill="#fff" stroke="#F8766D" stroke-width="1.8"/><line x1="541.1" y1="1080.4" x2="580.3" y2="1080.4" stroke="#F8766D" stroke-width="3"/><circle cx="557" cy="1080.4" r="2.3" fill="#F8766D" stroke="#000" stroke-width="1.15"/><circle cx="560.4" cy="1080.4" r="2.3" fill="#F8766D" stroke="#000" stroke-width="1.15"/><circle cx="561" cy="1080.4" r="2.3" fill="#F8766D" stroke="#000" stroke-width="1.15"/><text transform="translate(561,1047.5) scale(0.9,1)" font-size="17.5" font-weight="normal" text-anchor="middle">a</text><line x1="613.6" y1="1073.5" x2="613.6" y2="1070" stroke="#00BA38" stroke-width="1.8"/><rect x="594" y="1073.5" width="39.2" height="3" fill="#fff" stroke="#00BA38" stroke-width="1.8"/><line x1="594" y1="1074.8" x2="633.2" y2="1074.8" stroke="#00BA38" stroke-width="3"/><circle cx="621" cy="1069.6" r="2.3" fill="#00BA38" stroke="#000" stroke-width="1.15"/><circle cx="617.6" cy="1076" r="2.3" fill="#00BA38" stroke="#000" stroke-width="1.15"/><circle cx="623" cy="1077" r="2.3" fill="#00BA38" stroke="#000" stroke-width="1.15"/><text transform="translate(613.6,1029.9) scale(0.9,1)" font-size="17.5" font-weight="normal" text-anchor="middle">a</text><line x1="666.4" y1="1061.6" x2="666.4" y2="1042.4" stroke="#619CFF" stroke-width="1.8"/><rect x="646.8" y="1061.6" width="39.2" height="19.8" fill="#fff" stroke="#619CFF" stroke-width="1.8"/><line x1="646.8" y1="1080" x2="686" y2="1080" stroke="#619CFF" stroke-width="3"/><circle cx="675" cy="1042.4" r="2.3" fill="#619CFF" stroke="#000" stroke-width="1.15"/><circle cx="659" cy="1080.4" r="2.3" fill="#619CFF" stroke="#000" stroke-width="1.15"/><circle cx="668.6" cy="1080.4" r="2.3" fill="#619CFF" stroke="#000" stroke-width="1.15"/><text transform="translate(666.6,967.9) scale(0.9,1)" font-size="17.5" font-weight="normal" text-anchor="middle">a</text></g>
<g><line x1="747.1" y1="955" x2="747.1" y2="1088" stroke="#000" stroke-width="3"/><line x1="737.3" y1="984.6" x2="747.1" y2="984.6" stroke="#000" stroke-width="3.4"/><text transform="translate(736.1,991.9)" font-size="19.6" font-weight="bold" text-anchor="end">0.9</text><line x1="737.3" y1="1017" x2="747.1" y2="1017" stroke="#000" stroke-width="3.4"/><text transform="translate(736.1,1024.3)" font-size="19.6" font-weight="bold" text-anchor="end">0.6</text><line x1="737.3" y1="1049" x2="747.1" y2="1049" stroke="#000" stroke-width="3.4"/><text transform="translate(736.1,1056.3)" font-size="19.6" font-weight="bold" text-anchor="end">0.3</text><line x1="737.3" y1="1081.4" x2="747.1" y2="1081.4" stroke="#000" stroke-width="3.4"/><text transform="translate(736.1,1088.7)" font-size="19.6" font-weight="bold" text-anchor="end">0.0</text><text transform="translate(798.96,954)" font-size="24" font-weight="bold" text-anchor="start" textLength="64.4" lengthAdjust="spacingAndGlyphs" stroke="#000" stroke-width="0.35">Lecidea</text><line x1="778.7" y1="1059.6" x2="778.7" y2="1043.4" stroke="#F8766D" stroke-width="1.8"/><rect x="759.1" y="1059.6" width="39.2" height="18.4" fill="#fff" stroke="#F8766D" stroke-width="1.8"/><line x1="759.1" y1="1076" x2="798.3" y2="1076" stroke="#F8766D" stroke-width="3"/><circle cx="769" cy="1043" r="2.3" fill="#F8766D" stroke="#000" stroke-width="1.15"/><circle cx="772" cy="1079.6" r="2.3" fill="#F8766D" stroke="#000" stroke-width="1.15"/><circle cx="777.6" cy="1076.6" r="2.3" fill="#F8766D" stroke="#000" stroke-width="1.15"/><text transform="translate(778.6,967.9) scale(0.9,1)" font-size="17.5" font-weight="normal" text-anchor="middle">a</text><line x1="831.6" y1="1056" x2="831.6" y2="1053" stroke="#00BA38" stroke-width="1.8"/><line x1="831.6" y1="1063" x2="831.6" y2="1066" stroke="#00BA38" stroke-width="1.8"/><rect x="812" y="1056" width="39.2" height="7" fill="#fff" stroke="#00BA38" stroke-width="1.8"/><line x1="812" y1="1059.4" x2="851.2" y2="1059.4" stroke="#00BA38" stroke-width="3"/><circle cx="834.6" cy="1053" r="2.3" fill="#00BA38" stroke="#000" stroke-width="1.15"/><circle cx="828.6" cy="1059.4" r="2.3" fill="#00BA38" stroke="#000" stroke-width="1.15"/><circle cx="830.6" cy="1066" r="2.3" fill="#00BA38" stroke="#000" stroke-width="1.15"/><text transform="translate(831.4,1003.5) scale(0.9,1)" font-size="17.5" font-weight="normal" text-anchor="middle">a</text><rect x="864.8" y="1079.2" width="39.2" height="1.8" fill="#fff" stroke="#619CFF" stroke-width="1.8"/><line x1="864.8" y1="1080" x2="904" y2="1080" stroke="#619CFF" stroke-width="3"/><circle cx="875.4" cy="1080.4" r="2.3" fill="#619CFF" stroke="#000" stroke-width="1.15"/><circle cx="880.4" cy="1080.8" r="2.3" fill="#619CFF" stroke="#000" stroke-width="1.15"/><circle cx="893.4" cy="1079" r="2.3" fill="#619CFF" stroke="#000" stroke-width="1.15"/><text transform="translate(884.4,1039.5) scale(0.9,1)" font-size="17.5" font-weight="normal" text-anchor="middle">a</text></g>
<g><line x1="965" y1="955" x2="965" y2="1088" stroke="#000" stroke-width="3"/><line x1="955.2" y1="964.1" x2="965" y2="964.1" stroke="#000" stroke-width="3.4"/><text transform="translate(954,971.4)" font-size="19.6" font-weight="bold" text-anchor="end">40</text><line x1="955.2" y1="993.1" x2="965" y2="993.1" stroke="#000" stroke-width="3.4"/><text transform="translate(954,1000.4)" font-size="19.6" font-weight="bold" text-anchor="end">30</text><line x1="955.2" y1="1022.3" x2="965" y2="1022.3" stroke="#000" stroke-width="3.4"/><text transform="translate(954,1029.6)" font-size="19.6" font-weight="bold" text-anchor="end">20</text><line x1="955.2" y1="1051.3" x2="965" y2="1051.3" stroke="#000" stroke-width="3.4"/><text transform="translate(954,1058.6)" font-size="19.6" font-weight="bold" text-anchor="end">10</text><line x1="955.2" y1="1080.5" x2="965" y2="1080.5" stroke="#000" stroke-width="3.4"/><text transform="translate(954,1087.8)" font-size="19.6" font-weight="bold" text-anchor="end">0</text><text transform="translate(1010.22,954)" font-size="24" font-weight="bold" text-anchor="start" textLength="76.95" lengthAdjust="spacingAndGlyphs" stroke="#000" stroke-width="0.35">Lobariella</text><rect x="977" y="1079.7" width="39.2" height="1.6" fill="#fff" stroke="#F8766D" stroke-width="1.8"/><line x1="977" y1="1080.5" x2="1016.2" y2="1080.5" stroke="#F8766D" stroke-width="3"/><circle cx="989.9" cy="1080.5" r="2.3" fill="#F8766D" stroke="#000" stroke-width="1.15"/><circle cx="993.2" cy="1080.5" r="2.3" fill="#F8766D" stroke="#000" stroke-width="1.15"/><circle cx="995.8" cy="1080.5" r="2.3" fill="#F8766D" stroke="#000" stroke-width="1.15"/><text transform="translate(996.5,1085.9) scale(0.9,1)" font-size="17.5" font-weight="normal" text-anchor="middle">a</text><rect x="1029.9" y="1078" width="39.2" height="1.6" fill="#fff" stroke="#00BA38" stroke-width="1.8"/><line x1="1029.9" y1="1078.8" x2="1069.1" y2="1078.8" stroke="#00BA38" stroke-width="3"/><circle cx="1044.8" cy="1078.8" r="2.3" fill="#00BA38" stroke="#000" stroke-width="1.15"/><circle cx="1048.5" cy="1078.1" r="2.3" fill="#00BA38" stroke="#000" stroke-width="1.15"/><circle cx="1046.5" cy="1078.8" r="2.3" fill="#00BA38" stroke="#000" stroke-width="1.15"/><text transform="translate(1049.6,1080) scale(0.9,1)" font-size="17.5" font-weight="normal" text-anchor="middle">a</text><line x1="1102.3" y1="1052" x2="1102.3" y2="1024.3" stroke="#619CFF" stroke-width="1.8"/><rect x="1082.7" y="1052" width="39.2" height="29.6" fill="#fff" stroke="#619CFF" stroke-width="1.8"/><line x1="1082.7" y1="1080" x2="1121.9" y2="1080" stroke="#619CFF" stroke-width="3"/><circle cx="1094" cy="1024.3" r="2.3" fill="#619CFF" stroke="#000" stroke-width="1.15"/><circle cx="1099.5" cy="1081" r="2.3" fill="#619CFF" stroke="#000" stroke-width="1.15"/><circle cx="1101.9" cy="1081" r="2.3" fill="#619CFF" stroke="#000" stroke-width="1.15"/><text transform="translate(1101.9,968.6) scale(0.9,1)" font-size="17.5" font-weight="normal" text-anchor="middle">a</text></g>
<g><line x1="83.5" y1="1118" x2="83.5" y2="1252" stroke="#000" stroke-width="3"/><line x1="73.7" y1="1160.4" x2="83.5" y2="1160.4" stroke="#000" stroke-width="3.4"/><text transform="translate(72.5,1167.7)" font-size="19.6" font-weight="bold" text-anchor="end">2</text><line x1="73.7" y1="1202.4" x2="83.5" y2="1202.4" stroke="#000" stroke-width="3.4"/><text transform="translate(72.5,1209.7)" font-size="19.6" font-weight="bold" text-anchor="end">1</text><line x1="73.7" y1="1244" x2="83.5" y2="1244" stroke="#000" stroke-width="3.4"/><text transform="translate(72.5,1251.3)" font-size="19.6" font-weight="bold" text-anchor="end">0</text><text transform="translate(122.55,1117)" font-size="24" font-weight="bold" text-anchor="start" textLength="88.81" lengthAdjust="spacingAndGlyphs" stroke="#000" stroke-width="0.35">Mortierella</text><rect x="95.5" y="1243.2" width="39.2" height="1.6" fill="#fff" stroke="#F8766D" stroke-width="1.8"/><line x1="95.5" y1="1244" x2="134.7" y2="1244" stroke="#F8766D" stroke-width="3"/><circle cx="111.4" cy="1244.4" r="2.3" fill="#F8766D" stroke="#000" stroke-width="1.15"/><circle cx="120.6" cy="1244.4" r="2.3" fill="#F8766D" stroke="#000" stroke-width="1.15"/><circle cx="123" cy="1244.4" r="2.3" fill="#F8766D" stroke="#000" stroke-width="1.15"/><text transform="translate(115,1233.5) scale(0.9,1)" font-size="17.5" font-weight="normal" text-anchor="middle">a</text><rect x="148.4" y="1241.8" width="39.2" height="1.6" fill="#fff" stroke="#00BA38" stroke-width="1.8"/><line x1="148.4" y1="1242.6" x2="187.6" y2="1242.6" stroke="#00BA38" stroke-width="3"/><circle cx="162.6" cy="1244" r="2.3" fill="#00BA38" stroke="#000" stroke-width="1.15"/><circle cx="166" cy="1242" r="2.3" fill="#00BA38" stroke="#000" stroke-width="1.15"/><circle cx="172.4" cy="1243" r="2.3" fill="#00BA38" stroke="#000" stroke-width="1.15"/><text transform="translate(168,1229.5) scale(0.9,1)" font-size="17.5" font-weight="normal" text-anchor="middle">a</text><line x1="220.8" y1="1219.6" x2="220.8" y2="1195.4" stroke="#619CFF" stroke-width="1.8"/><rect x="201.2" y="1219.6" width="39.2" height="24.8" fill="#fff" stroke="#619CFF" stroke-width="1.8"/><line x1="201.2" y1="1243" x2="240.4" y2="1243" stroke="#619CFF" stroke-width="3"/><circle cx="229" cy="1195" r="2.3" fill="#619CFF" stroke="#000" stroke-width="1.15"/><circle cx="214" cy="1244.4" r="2.3" fill="#619CFF" stroke="#000" stroke-width="1.15"/><circle cx="224" cy="1244.4" r="2.3" fill="#619CFF" stroke="#000" stroke-width="1.15"/><text transform="translate(220.4,1131.5) scale(0.9,1)" font-size="17.5" font-weight="normal" text-anchor="middle">a</text></g>
<g><line x1="301.1" y1="1118" x2="301.1" y2="1252" stroke="#000" stroke-width="3"/><line x1="291.3" y1="1130" x2="301.1" y2="1130" stroke="#000" stroke-width="3.4"/><text transform="translate(290.1,1137.3)" font-size="19.6" font-weight="bold" text-anchor="end">1.2</text><line x1="291.3" y1="1168.6" x2="301.1" y2="1168.6" stroke="#000" stroke-width="3.4"/><text transform="translate(290.1,1175.9)" font-size="19.6" font-weight="bold" text-anchor="end">0.8</text><line x1="291.3" y1="1206.6" x2="301.1" y2="1206.6" stroke="#000" stroke-width="3.4"/><text transform="translate(290.1,1213.9)" font-size="19.6" font-weight="bold" text-anchor="end">0.4</text><line x1="291.3" y1="1244" x2="301.1" y2="1244" stroke="#000" stroke-width="3.4"/><text transform="translate(290.1,1251.3)" font-size="19.6" font-weight="bold" text-anchor="end">0.0</text><text transform="translate(334.56,1117)" font-size="24" font-weight="bold" text-anchor="start" textLength="100.2" lengthAdjust="spacingAndGlyphs" stroke="#000" stroke-width="0.35">Neobulgaria</text><rect x="313.1" y="1243.2" width="39.2" height="1.6" fill="#fff" stroke="#F8766D" stroke-width="1.8"/><line x1="313.1" y1="1244" x2="352.3" y2="1244" stroke="#F8766D" stroke-width="3"/><circle cx="325" cy="1244" r="2.3" fill="#F8766D" stroke="#000" stroke-width="1.15"/><circle cx="327.4" cy="1244" r="2.3" fill="#F8766D" stroke="#000" stroke-width="1.15"/><circle cx="337" cy="1244" r="2.3" fill="#F8766D" stroke="#000" stroke-width="1.15"/><text transform="translate(332.6,1212.1) scale(0.9,1)" font-size="17.5" font-weight="normal" text-anchor="middle">a</text><rect x="366" y="1237" width="39.2" height="3" fill="#fff" stroke="#00BA38" stroke-width="1.8"/><line x1="366" y1="1238.4" x2="405.2" y2="1238.4" stroke="#00BA38" stroke-width="3"/><circle cx="376.4" cy="1242" r="2.3" fill="#00BA38" stroke="#000" stroke-width="1.15"/><circle cx="386" cy="1237.6" r="2.3" fill="#00BA38" stroke="#000" stroke-width="1.15"/><circle cx="389.6" cy="1236.4" r="2.3" fill="#00BA38" stroke="#000" stroke-width="1.15"/><text transform="translate(385.4,1197.5) scale(0.9,1)" font-size="17.5" font-weight="normal" text-anchor="middle">a</text><line x1="438.4" y1="1224.6" x2="438.4" y2="1205.6" stroke="#619CFF" stroke-width="1.8"/><rect x="418.8" y="1224.6" width="39.2" height="19.8" fill="#fff" stroke="#619CFF" stroke-width="1.8"/><line x1="418.8" y1="1243" x2="458" y2="1243" stroke="#619CFF" stroke-width="3"/><circle cx="430" cy="1205.4" r="2.3" fill="#619CFF" stroke="#000" stroke-width="1.15"/><circle cx="428.6" cy="1244" r="2.3" fill="#619CFF" stroke="#000" stroke-width="1.15"/><circle cx="440.6" cy="1244" r="2.3" fill="#619CFF" stroke="#000" stroke-width="1.15"/><text transform="translate(438,1131.5) scale(0.9,1)" font-size="17.5" font-weight="normal" text-anchor="middle">a</text></g>
<g><line x1="529.1" y1="1118" x2="529.1" y2="1252" stroke="#000" stroke-width="3"/><line x1="519.3" y1="1153" x2="529.1" y2="1153" stroke="#000" stroke-width="3.4"/><text transform="translate(518.1,1160.3)" font-size="19.6" font-weight="bold" text-anchor="end">2</text><line x1="519.3" y1="1198.6" x2="529.1" y2="1198.6" stroke="#000" stroke-width="3.4"/><text transform="translate(518.1,1205.9)" font-size="19.6" font-weight="bold" text-anchor="end">1</text><line x1="519.3" y1="1244" x2="529.1" y2="1244" stroke="#000" stroke-width="3.4"/><text transform="translate(518.1,1251.3)" font-size="19.6" font-weight="bold" text-anchor="end">0</text><text transform="translate(540.3,1117)" font-size="24" font-weight="bold" text-anchor="start" textLength="146.93" lengthAdjust="spacingAndGlyphs" stroke="#000" stroke-width="0.35">Oedogoniomyces</text><rect x="541.1" y="1243.2" width="39.2" height="1.6" fill="#fff" stroke="#F8766D" stroke-width="1.8"/><line x1="541.1" y1="1244" x2="580.3" y2="1244" stroke="#F8766D" stroke-width="3"/><circle cx="556" cy="1244.4" r="2.3" fill="#F8766D" stroke="#000" stroke-width="1.15"/><circle cx="559.4" cy="1244.4" r="2.3" fill="#F8766D" stroke="#000" stroke-width="1.15"/><circle cx="560" cy="1244.4" r="2.3" fill="#F8766D" stroke="#000" stroke-width="1.15"/><text transform="translate(561,1232.1) scale(0.9,1)" font-size="17.5" font-weight="normal" text-anchor="middle">a</text><rect x="594" y="1242.6" width="39.2" height="1.6" fill="#fff" stroke="#00BA38" stroke-width="1.8"/><line x1="594" y1="1243.4" x2="633.2" y2="1243.4" stroke="#00BA38" stroke-width="3"/><circle cx="607.6" cy="1243.6" r="2.3" fill="#00BA38" stroke="#000" stroke-width="1.15"/><circle cx="611" cy="1243.6" r="2.3" fill="#00BA38" stroke="#000" stroke-width="1.15"/><circle cx="616" cy="1243" r="2.3" fill="#00BA38" stroke="#000" stroke-width="1.15"/><text transform="translate(613.6,1230.1) scale(0.9,1)" font-size="17.5" font-weight="normal" text-anchor="middle">a</text><line x1="666.4" y1="1219.4" x2="666.4" y2="1196" stroke="#619CFF" stroke-width="1.8"/><rect x="646.8" y="1219.4" width="39.2" height="24.6" fill="#fff" stroke="#619CFF" stroke-width="1.8"/><line x1="646.8" y1="1242.5" x2="686" y2="1242.5" stroke="#619CFF" stroke-width="3"/><circle cx="674.4" cy="1195.4" r="2.3" fill="#619CFF" stroke="#000" stroke-width="1.15"/><circle cx="670" cy="1244.4" r="2.3" fill="#619CFF" stroke="#000" stroke-width="1.15"/><circle cx="673.4" cy="1243.4" r="2.3" fill="#619CFF" stroke="#000" stroke-width="1.15"/><text transform="translate(666.6,1131.5) scale(0.9,1)" font-size="17.5" font-weight="normal" text-anchor="middle">a</text></g>
<g><line x1="747.1" y1="1118" x2="747.1" y2="1252" stroke="#000" stroke-width="3"/><line x1="737.3" y1="1136" x2="747.1" y2="1136" stroke="#000" stroke-width="3.4"/><text transform="translate(736.1,1143.3)" font-size="19.6" font-weight="bold" text-anchor="end">4</text><line x1="737.3" y1="1163.4" x2="747.1" y2="1163.4" stroke="#000" stroke-width="3.4"/><text transform="translate(736.1,1170.7)" font-size="19.6" font-weight="bold" text-anchor="end">3</text><line x1="737.3" y1="1190.4" x2="747.1" y2="1190.4" stroke="#000" stroke-width="3.4"/><text transform="translate(736.1,1197.7)" font-size="19.6" font-weight="bold" text-anchor="end">2</text><line x1="737.3" y1="1217.6" x2="747.1" y2="1217.6" stroke="#000" stroke-width="3.4"/><text transform="translate(736.1,1224.9)" font-size="19.6" font-weight="bold" text-anchor="end">1</text><line x1="737.3" y1="1244.4" x2="747.1" y2="1244.4" stroke="#000" stroke-width="3.4"/><text transform="translate(736.1,1251.7)" font-size="19.6" font-weight="bold" text-anchor="end">0</text><text transform="translate(767.55,1117)" font-size="24" font-weight="bold" text-anchor="start" textLength="127.49" lengthAdjust="spacingAndGlyphs" stroke="#000" stroke-width="0.35">Pseudeurotium</text><rect x="759.1" y="1242.5" width="39.2" height="2" fill="#fff" stroke="#F8766D" stroke-width="1.8"/><line x1="759.1" y1="1243.5" x2="798.3" y2="1243.5" stroke="#F8766D" stroke-width="3"/><circle cx="768.6" cy="1243.6" r="2.3" fill="#F8766D" stroke="#000" stroke-width="1.15"/><circle cx="781.6" cy="1243" r="2.3" fill="#F8766D" stroke="#000" stroke-width="1.15"/><circle cx="788" cy="1243.4" r="2.3" fill="#F8766D" stroke="#000" stroke-width="1.15"/><text transform="translate(778.6,1238.1) scale(0.9,1)" font-size="17.5" font-weight="normal" text-anchor="middle">a</text><rect x="812" y="1231" width="39.2" height="3" fill="#fff" stroke="#00BA38" stroke-width="1.8"/><line x1="812" y1="1232.4" x2="851.2" y2="1232.4" stroke="#00BA38" stroke-width="3"/><circle cx="827.4" cy="1229.6" r="2.3" fill="#00BA38" stroke="#000" stroke-width="1.15"/><circle cx="835.4" cy="1232" r="2.3" fill="#00BA38" stroke="#000" stroke-width="1.15"/><circle cx="838.4" cy="1235.6" r="2.3" fill="#00BA38" stroke="#000" stroke-width="1.15"/><text transform="translate(831.4,1218.9) scale(0.9,1)" font-size="17.5" font-weight="normal" text-anchor="middle">a</text><line x1="884.4" y1="1214" x2="884.4" y2="1191" stroke="#619CFF" stroke-width="1.8"/><rect x="864.8" y="1214" width="39.2" height="27" fill="#fff" stroke="#619CFF" stroke-width="1.8"/><line x1="864.8" y1="1237" x2="904" y2="1237" stroke="#619CFF" stroke-width="3"/><circle cx="893" cy="1190.6" r="2.3" fill="#619CFF" stroke="#000" stroke-width="1.15"/><circle cx="874.4" cy="1237" r="2.3" fill="#619CFF" stroke="#000" stroke-width="1.15"/><circle cx="886.4" cy="1244.4" r="2.3" fill="#619CFF" stroke="#000" stroke-width="1.15"/><text transform="translate(884.4,1131.5) scale(0.9,1)" font-size="17.5" font-weight="normal" text-anchor="middle">a</text></g>
<g><line x1="965" y1="1118" x2="965" y2="1252" stroke="#000" stroke-width="3"/><line x1="955.2" y1="1131.9" x2="965" y2="1131.9" stroke="#000" stroke-width="3.4"/><text transform="translate(954,1139.2)" font-size="19.6" font-weight="bold" text-anchor="end">0.8</text><line x1="955.2" y1="1159.8" x2="965" y2="1159.8" stroke="#000" stroke-width="3.4"/><text transform="translate(954,1167.1)" font-size="19.6" font-weight="bold" text-anchor="end">0.6</text><line x1="955.2" y1="1188.4" x2="965" y2="1188.4" stroke="#000" stroke-width="3.4"/><text transform="translate(954,1195.7)" font-size="19.6" font-weight="bold" text-anchor="end">0.4</text><line x1="955.2" y1="1216.5" x2="965" y2="1216.5" stroke="#000" stroke-width="3.4"/><text transform="translate(954,1223.8)" font-size="19.6" font-weight="bold" text-anchor="end">0.2</text><line x1="955.2" y1="1244.6" x2="965" y2="1244.6" stroke="#000" stroke-width="3.4"/><text transform="translate(954,1251.9)" font-size="19.6" font-weight="bold" text-anchor="end">0.0</text><line x1="963.5" y1="1250.3" x2="1134.8" y2="1250.3" stroke="#000" stroke-width="3.4"/><line x1="996.6" y1="1250.3" x2="996.6" y2="1260.3" stroke="#000" stroke-width="3.6"/><line x1="1049.5" y1="1250.3" x2="1049.5" y2="1260.3" stroke="#000" stroke-width="3.6"/><line x1="1102.3" y1="1250.3" x2="1102.3" y2="1260.3" stroke="#000" stroke-width="3.6"/><text transform="translate(970.55,1117)" font-size="24" font-weight="bold" text-anchor="start" textLength="170.18" lengthAdjust="spacingAndGlyphs" stroke="#000" stroke-width="0.35">Pseudogymnoascus</text><rect x="977" y="1243.6" width="39.2" height="1.6" fill="#fff" stroke="#F8766D" stroke-width="1.8"/><line x1="977" y1="1244.4" x2="1016.2" y2="1244.4" stroke="#F8766D" stroke-width="3"/><circle cx="987" cy="1244.4" r="2.3" fill="#F8766D" stroke="#000" stroke-width="1.15"/><circle cx="999.5" cy="1244.4" r="2.3" fill="#F8766D" stroke="#000" stroke-width="1.15"/><circle cx="988.5" cy="1244.4" r="2.3" fill="#F8766D" stroke="#000" stroke-width="1.15"/><text transform="translate(996.4,1192.5) scale(0.9,1)" font-size="17.5" font-weight="normal" text-anchor="middle">a</text><line x1="1049.5" y1="1235.6" x2="1049.5" y2="1240" stroke="#00BA38" stroke-width="1.8"/><rect x="1029.9" y="1231" width="39.2" height="4.6" fill="#fff" stroke="#00BA38" stroke-width="1.8"/><line x1="1029.9" y1="1232" x2="1069.1" y2="1232" stroke="#00BA38" stroke-width="3"/><circle cx="1040.4" cy="1231.9" r="2.3" fill="#00BA38" stroke="#000" stroke-width="1.15"/><circle cx="1042.6" cy="1231.9" r="2.3" fill="#00BA38" stroke="#000" stroke-width="1.15"/><circle cx="1056.6" cy="1240" r="2.3" fill="#00BA38" stroke="#000" stroke-width="1.15"/><text transform="translate(1049.2,1168.3) scale(0.9,1)" font-size="17.5" font-weight="normal" text-anchor="middle">a</text><line x1="1102.3" y1="1218.7" x2="1102.3" y2="1216" stroke="#619CFF" stroke-width="1.8"/><line x1="1102.3" y1="1232.3" x2="1102.3" y2="1243.5" stroke="#619CFF" stroke-width="1.8"/><rect x="1082.7" y="1218.7" width="39.2" height="13.6" fill="#fff" stroke="#619CFF" stroke-width="1.8"/><line x1="1082.7" y1="1221.3" x2="1121.9" y2="1221.3" stroke="#619CFF" stroke-width="3"/><circle cx="1111.8" cy="1215.9" r="2.3" fill="#619CFF" stroke="#000" stroke-width="1.15"/><circle cx="1099.5" cy="1221.3" r="2.3" fill="#619CFF" stroke="#000" stroke-width="1.15"/><circle cx="1096.4" cy="1243.5" r="2.3" fill="#619CFF" stroke="#000" stroke-width="1.15"/><text transform="translate(1101.9,1131.6) scale(0.9,1)" font-size="17.5" font-weight="normal" text-anchor="middle">a</text></g>
<g><line x1="83.5" y1="1282" x2="83.5" y2="1415.2" stroke="#000" stroke-width="3"/><line x1="73.7" y1="1306.4" x2="83.5" y2="1306.4" stroke="#000" stroke-width="3.4"/><text transform="translate(72.5,1313.7)" font-size="19.6" font-weight="bold" text-anchor="end">0.6</text><line x1="73.7" y1="1340.6" x2="83.5" y2="1340.6" stroke="#000" stroke-width="3.4"/><text transform="translate(72.5,1347.9)" font-size="19.6" font-weight="bold" text-anchor="end">0.4</text><line x1="73.7" y1="1374" x2="83.5" y2="1374" stroke="#000" stroke-width="3.4"/><text transform="translate(72.5,1381.3)" font-size="19.6" font-weight="bold" text-anchor="end">0.2</text><line x1="73.7" y1="1408" x2="83.5" y2="1408" stroke="#000" stroke-width="3.4"/><text transform="translate(72.5,1415.3)" font-size="19.6" font-weight="bold" text-anchor="end">0.0</text><line x1="82" y1="1413.5" x2="253.8" y2="1413.5" stroke="#000" stroke-width="3.4"/><line x1="115.1" y1="1413.5" x2="115.1" y2="1423.5" stroke="#000" stroke-width="3.6"/><line x1="168" y1="1413.5" x2="168" y2="1423.5" stroke="#000" stroke-width="3.6"/><line x1="220.8" y1="1413.5" x2="220.8" y2="1423.5" stroke="#000" stroke-width="3.6"/><text transform="translate(120.65,1281)" font-size="24" font-weight="bold" text-anchor="start" textLength="95.6" lengthAdjust="spacingAndGlyphs" stroke="#000" stroke-width="0.35">Staurothele</text><rect x="95.5" y="1407.2" width="39.2" height="1.6" fill="#fff" stroke="#F8766D" stroke-width="1.8"/><line x1="95.5" y1="1408" x2="134.7" y2="1408" stroke="#F8766D" stroke-width="3"/><circle cx="105.6" cy="1408" r="2.3" fill="#F8766D" stroke="#000" stroke-width="1.15"/><circle cx="112" cy="1408" r="2.3" fill="#F8766D" stroke="#000" stroke-width="1.15"/><circle cx="122.6" cy="1408" r="2.3" fill="#F8766D" stroke="#000" stroke-width="1.15"/><text transform="translate(115,1346.5) scale(0.9,1)" font-size="17.5" font-weight="normal" text-anchor="middle">a</text><rect x="148.4" y="1406.2" width="39.2" height="1.6" fill="#fff" stroke="#00BA38" stroke-width="1.8"/><line x1="148.4" y1="1407" x2="187.6" y2="1407" stroke="#00BA38" stroke-width="3"/><circle cx="161.6" cy="1406" r="2.3" fill="#00BA38" stroke="#000" stroke-width="1.15"/><circle cx="164.4" cy="1407.6" r="2.3" fill="#00BA38" stroke="#000" stroke-width="1.15"/><circle cx="167.4" cy="1407" r="2.3" fill="#00BA38" stroke="#000" stroke-width="1.15"/><text transform="translate(167.4,1342.9) scale(0.9,1)" font-size="17.5" font-weight="normal" text-anchor="middle">a</text><line x1="220.8" y1="1395.4" x2="220.8" y2="1383.4" stroke="#619CFF" stroke-width="1.8"/><rect x="201.2" y="1395.4" width="39.2" height="13" fill="#fff" stroke="#619CFF" stroke-width="1.8"/><line x1="201.2" y1="1407" x2="240.4" y2="1407" stroke="#619CFF" stroke-width="3"/><circle cx="229" cy="1383.4" r="2.3" fill="#619CFF" stroke="#000" stroke-width="1.15"/><circle cx="211.4" cy="1408" r="2.3" fill="#619CFF" stroke="#000" stroke-width="1.15"/><circle cx="223.6" cy="1408" r="2.3" fill="#619CFF" stroke="#000" stroke-width="1.15"/><text transform="translate(220.4,1294.9) scale(0.9,1)" font-size="17.5" font-weight="normal" text-anchor="middle">a</text></g>
<g><line x1="301.1" y1="1282" x2="301.1" y2="1415.2" stroke="#000" stroke-width="3"/><line x1="291.3" y1="1290.6" x2="301.1" y2="1290.6" stroke="#000" stroke-width="3.4"/><text transform="translate(290.1,1297.9)" font-size="19.6" font-weight="bold" text-anchor="end">0.8</text><line x1="291.3" y1="1320" x2="301.1" y2="1320" stroke="#000" stroke-width="3.4"/><text transform="translate(290.1,1327.3)" font-size="19.6" font-weight="bold" text-anchor="end">0.6</text><line x1="291.3" y1="1349.4" x2="301.1" y2="1349.4" stroke="#000" stroke-width="3.4"/><text transform="translate(290.1,1356.7)" font-size="19.6" font-weight="bold" text-anchor="end">0.4</text><line x1="291.3" y1="1378.6" x2="301.1" y2="1378.6" stroke="#000" stroke-width="3.4"/><text transform="translate(290.1,1385.9)" font-size="19.6" font-weight="bold" text-anchor="end">0.2</text><line x1="291.3" y1="1408" x2="301.1" y2="1408" stroke="#000" stroke-width="3.4"/><text transform="translate(290.1,1415.3)" font-size="19.6" font-weight="bold" text-anchor="end">0.0</text><line x1="299.6" y1="1413.5" x2="471" y2="1413.5" stroke="#000" stroke-width="3.4"/><line x1="332.7" y1="1413.5" x2="332.7" y2="1423.5" stroke="#000" stroke-width="3.6"/><line x1="385.6" y1="1413.5" x2="385.6" y2="1423.5" stroke="#000" stroke-width="3.6"/><line x1="438.4" y1="1413.5" x2="438.4" y2="1423.5" stroke="#000" stroke-width="3.6"/><text transform="translate(336.83,1281)" font-size="24" font-weight="bold" text-anchor="start" textLength="99.39" lengthAdjust="spacingAndGlyphs" stroke="#000" stroke-width="0.35">Trapeliopsis</text><rect x="313.1" y="1407.2" width="39.2" height="1.6" fill="#fff" stroke="#F8766D" stroke-width="1.8"/><line x1="313.1" y1="1408" x2="352.3" y2="1408" stroke="#F8766D" stroke-width="3"/><circle cx="336.6" cy="1408" r="2.3" fill="#F8766D" stroke="#000" stroke-width="1.15"/><circle cx="339" cy="1408" r="2.3" fill="#F8766D" stroke="#000" stroke-width="1.15"/><circle cx="343" cy="1408" r="2.3" fill="#F8766D" stroke="#000" stroke-width="1.15"/><text transform="translate(332.6,1354.5) scale(0.9,1)" font-size="17.5" font-weight="normal" text-anchor="middle">a</text><rect x="366" y="1406.2" width="39.2" height="1.6" fill="#fff" stroke="#00BA38" stroke-width="1.8"/><line x1="366" y1="1407" x2="405.2" y2="1407" stroke="#00BA38" stroke-width="3"/><circle cx="388.4" cy="1407" r="2.3" fill="#00BA38" stroke="#000" stroke-width="1.15"/><circle cx="394" cy="1407.6" r="2.3" fill="#00BA38" stroke="#000" stroke-width="1.15"/><circle cx="395" cy="1406" r="2.3" fill="#00BA38" stroke="#000" stroke-width="1.15"/><text transform="translate(385.4,1350.5) scale(0.9,1)" font-size="17.5" font-weight="normal" text-anchor="middle">a</text><line x1="438.4" y1="1393.6" x2="438.4" y2="1379" stroke="#619CFF" stroke-width="1.8"/><rect x="418.8" y="1393.6" width="39.2" height="14.8" fill="#fff" stroke="#619CFF" stroke-width="1.8"/><line x1="418.8" y1="1407" x2="458" y2="1407" stroke="#619CFF" stroke-width="3"/><circle cx="446.4" cy="1379" r="2.3" fill="#619CFF" stroke="#000" stroke-width="1.15"/><circle cx="429.6" cy="1408" r="2.3" fill="#619CFF" stroke="#000" stroke-width="1.15"/><circle cx="431" cy="1408" r="2.3" fill="#619CFF" stroke="#000" stroke-width="1.15"/><text transform="translate(438,1294.9) scale(0.9,1)" font-size="17.5" font-weight="normal" text-anchor="middle">a</text></g>
<g><line x1="529.8" y1="1282" x2="529.8" y2="1415.9" stroke="#000" stroke-width="3"/><line x1="520" y1="1303.6" x2="529.8" y2="1303.6" stroke="#000" stroke-width="3.4"/><text transform="translate(518.8,1310.9)" font-size="19.6" font-weight="bold" text-anchor="end">15</text><line x1="520" y1="1339.5" x2="529.8" y2="1339.5" stroke="#000" stroke-width="3.4"/><text transform="translate(518.8,1346.8)" font-size="19.6" font-weight="bold" text-anchor="end">10</text><line x1="520" y1="1375.7" x2="529.8" y2="1375.7" stroke="#000" stroke-width="3.4"/><text transform="translate(518.8,1383)" font-size="19.6" font-weight="bold" text-anchor="end">5</text><line x1="520" y1="1411.6" x2="529.8" y2="1411.6" stroke="#000" stroke-width="3.4"/><text transform="translate(518.8,1418.9)" font-size="19.6" font-weight="bold" text-anchor="end">0</text><line x1="528.3" y1="1414.2" x2="699.6" y2="1414.2" stroke="#000" stroke-width="3.4"/><line x1="561.4" y1="1414.2" x2="561.4" y2="1424.2" stroke="#000" stroke-width="3.6"/><line x1="614.3" y1="1414.2" x2="614.3" y2="1424.2" stroke="#000" stroke-width="3.6"/><line x1="667.1" y1="1414.2" x2="667.1" y2="1424.2" stroke="#000" stroke-width="3.6"/><text transform="translate(587.36,1281)" font-size="24" font-weight="bold" text-anchor="start" textLength="52" lengthAdjust="spacingAndGlyphs" stroke="#000" stroke-width="0.35">Usnea</text><line x1="561.4" y1="1328.3" x2="561.4" y2="1320.2" stroke="#F8766D" stroke-width="1.8"/><line x1="561.4" y1="1341.5" x2="561.4" y2="1346.2" stroke="#F8766D" stroke-width="1.8"/><rect x="541.8" y="1328.3" width="39.2" height="13.2" fill="#fff" stroke="#F8766D" stroke-width="1.8"/><line x1="541.8" y1="1335.5" x2="581" y2="1335.5" stroke="#F8766D" stroke-width="3"/><circle cx="552.4" cy="1320.5" r="2.3" fill="#F8766D" stroke="#000" stroke-width="1.15"/><circle cx="567.2" cy="1335.5" r="2.3" fill="#F8766D" stroke="#000" stroke-width="1.15"/><circle cx="562.3" cy="1348.9" r="2.3" fill="#F8766D" stroke="#000" stroke-width="1.15"/><text transform="translate(561,1295.2) scale(0.9,1)" font-size="17.5" font-weight="normal" text-anchor="middle">b</text><line x1="614.3" y1="1368.5" x2="614.3" y2="1363.7" stroke="#00BA38" stroke-width="1.8"/><line x1="614.3" y1="1378.2" x2="614.3" y2="1381.8" stroke="#00BA38" stroke-width="1.8"/><rect x="594.7" y="1368.5" width="39.2" height="9.7" fill="#fff" stroke="#00BA38" stroke-width="1.8"/><line x1="594.7" y1="1373.4" x2="633.9" y2="1373.4" stroke="#00BA38" stroke-width="3"/><circle cx="605.9" cy="1363.7" r="2.3" fill="#00BA38" stroke="#000" stroke-width="1.15"/><circle cx="609.1" cy="1373.6" r="2.3" fill="#00BA38" stroke="#000" stroke-width="1.15"/><circle cx="611.8" cy="1382.1" r="2.3" fill="#00BA38" stroke="#000" stroke-width="1.15"/><text transform="translate(613.6,1348.5) scale(0.9,1)" font-size="17.5" font-weight="normal" text-anchor="middle">ab</text><line x1="667.1" y1="1394" x2="667.1" y2="1380.6" stroke="#619CFF" stroke-width="1.8"/><rect x="647.5" y="1394" width="39.2" height="14.4" fill="#fff" stroke="#619CFF" stroke-width="1.8"/><line x1="647.5" y1="1407" x2="686.7" y2="1407" stroke="#619CFF" stroke-width="3"/><circle cx="667" cy="1380.6" r="2.3" fill="#619CFF" stroke="#000" stroke-width="1.15"/><circle cx="661.6" cy="1408" r="2.3" fill="#619CFF" stroke="#000" stroke-width="1.15"/><circle cx="666" cy="1407.4" r="2.3" fill="#619CFF" stroke="#000" stroke-width="1.15"/><text transform="translate(666.6,1354.9) scale(0.9,1)" font-size="17.5" font-weight="normal" text-anchor="middle">a</text></g>
<g><line x1="747.1" y1="1282" x2="747.1" y2="1415.2" stroke="#000" stroke-width="3"/><line x1="737.3" y1="1285" x2="747.1" y2="1285" stroke="#000" stroke-width="3.4"/><text transform="translate(736.1,1292.3)" font-size="19.6" font-weight="bold" text-anchor="end">2.5</text><line x1="737.3" y1="1309.6" x2="747.1" y2="1309.6" stroke="#000" stroke-width="3.4"/><text transform="translate(736.1,1316.9)" font-size="19.6" font-weight="bold" text-anchor="end">2.0</text><line x1="737.3" y1="1334" x2="747.1" y2="1334" stroke="#000" stroke-width="3.4"/><text transform="translate(736.1,1341.3)" font-size="19.6" font-weight="bold" text-anchor="end">1.5</text><line x1="737.3" y1="1359" x2="747.1" y2="1359" stroke="#000" stroke-width="3.4"/><text transform="translate(736.1,1366.3)" font-size="19.6" font-weight="bold" text-anchor="end">1.0</text><line x1="737.3" y1="1383.4" x2="747.1" y2="1383.4" stroke="#000" stroke-width="3.4"/><text transform="translate(736.1,1390.7)" font-size="19.6" font-weight="bold" text-anchor="end">0.5</text><line x1="737.3" y1="1408" x2="747.1" y2="1408" stroke="#000" stroke-width="3.4"/><text transform="translate(736.1,1415.3)" font-size="19.6" font-weight="bold" text-anchor="end">0.0</text><line x1="745.6" y1="1413.5" x2="917.6" y2="1413.5" stroke="#000" stroke-width="3.4"/><line x1="778.7" y1="1413.5" x2="778.7" y2="1423.5" stroke="#000" stroke-width="3.6"/><line x1="831.6" y1="1413.5" x2="831.6" y2="1423.5" stroke="#000" stroke-width="3.6"/><line x1="884.4" y1="1413.5" x2="884.4" y2="1423.5" stroke="#000" stroke-width="3.6"/><text transform="translate(789.6,1281)" font-size="24" font-weight="bold" text-anchor="start" textLength="83.76" lengthAdjust="spacingAndGlyphs" stroke="#000" stroke-width="0.35">Verrucaria</text><rect x="759.1" y="1406.8" width="39.2" height="1.6" fill="#fff" stroke="#F8766D" stroke-width="1.8"/><line x1="759.1" y1="1407.6" x2="798.3" y2="1407.6" stroke="#F8766D" stroke-width="3"/><circle cx="769" cy="1407.6" r="2.3" fill="#F8766D" stroke="#000" stroke-width="1.15"/><circle cx="773" cy="1407.6" r="2.3" fill="#F8766D" stroke="#000" stroke-width="1.15"/><circle cx="779.6" cy="1407.6" r="2.3" fill="#F8766D" stroke="#000" stroke-width="1.15"/><text transform="translate(778.6,1393.5) scale(0.9,1)" font-size="17.5" font-weight="normal" text-anchor="middle">a</text><line x1="831.6" y1="1397.6" x2="831.6" y2="1394.4" stroke="#00BA38" stroke-width="1.8"/><rect x="812" y="1397.6" width="39.2" height="4.6" fill="#fff" stroke="#00BA38" stroke-width="1.8"/><line x1="812" y1="1401" x2="851.2" y2="1401" stroke="#00BA38" stroke-width="3"/><circle cx="821.4" cy="1393.6" r="2.3" fill="#00BA38" stroke="#000" stroke-width="1.15"/><circle cx="824" cy="1401" r="2.3" fill="#00BA38" stroke="#000" stroke-width="1.15"/><circle cx="826.4" cy="1402.4" r="2.3" fill="#00BA38" stroke="#000" stroke-width="1.15"/><text transform="translate(831.4,1371.5) scale(0.9,1)" font-size="17.5" font-weight="normal" text-anchor="middle">a</text><line x1="884.4" y1="1366.4" x2="884.4" y2="1365" stroke="#619CFF" stroke-width="1.8"/><line x1="884.4" y1="1388" x2="884.4" y2="1407" stroke="#619CFF" stroke-width="1.8"/><rect x="864.8" y="1366.4" width="39.2" height="21.6" fill="#fff" stroke="#619CFF" stroke-width="1.8"/><line x1="864.8" y1="1368.6" x2="904" y2="1368.6" stroke="#619CFF" stroke-width="3"/><circle cx="874.4" cy="1364.4" r="2.3" fill="#619CFF" stroke="#000" stroke-width="1.15"/><circle cx="887.4" cy="1368.4" r="2.3" fill="#619CFF" stroke="#000" stroke-width="1.15"/><circle cx="894" cy="1407" r="2.3" fill="#619CFF" stroke="#000" stroke-width="1.15"/><text transform="translate(884,1294.9) scale(0.9,1)" font-size="17.5" font-weight="normal" text-anchor="middle">a</text></g>
<g><line x1="1009.75" y1="608.4" x2="1009.75" y2="633.1" stroke="#F8766D" stroke-width="2"/><rect x="990.15" y="613.4" width="39.2" height="14.3" fill="#fff" stroke="#F8766D" stroke-width="2"/><line x1="990.15" y1="621" x2="1029.35" y2="621" stroke="#F8766D" stroke-width="2"/><ellipse cx="1009.75" cy="621" rx="3.4" ry="2.6" fill="#F8766D" stroke="#000" stroke-width="1.2"/><text transform="translate(1047.12,628.7)" font-size="22" font-weight="normal" text-anchor="start" textLength="69.2" lengthAdjust="spacingAndGlyphs">Lichen</text><line x1="1009.75" y1="639.8" x2="1009.75" y2="664.1" stroke="#00BA38" stroke-width="2"/><rect x="990.15" y="644.9" width="39.2" height="14.2" fill="#fff" stroke="#00BA38" stroke-width="2"/><line x1="990.15" y1="652" x2="1029.35" y2="652" stroke="#00BA38" stroke-width="2"/><ellipse cx="1009.75" cy="652" rx="3.4" ry="2.6" fill="#00BA38" stroke="#000" stroke-width="1.2"/><text transform="translate(1047.12,659)" font-size="22" font-weight="normal" text-anchor="start" textLength="56.19" lengthAdjust="spacingAndGlyphs">Moss</text><line x1="1009.75" y1="671.2" x2="1009.75" y2="696" stroke="#619CFF" stroke-width="2"/><rect x="990.15" y="676.3" width="39.2" height="14.2" fill="#fff" stroke="#619CFF" stroke-width="2"/><line x1="990.15" y1="683.8" x2="1029.35" y2="683.8" stroke="#619CFF" stroke-width="2"/><ellipse cx="1009.75" cy="683.8" rx="3.4" ry="2.6" fill="#619CFF" stroke="#000" stroke-width="1.2"/><text transform="translate(1048.05,690.9)" font-size="22" font-weight="normal" text-anchor="start" textLength="39.41" lengthAdjust="spacingAndGlyphs">Soil</text></g>
<text transform="translate(24.8,414.02) rotate(-90)" font-size="19.4" font-weight="bold" text-anchor="start" textLength="145.81" lengthAdjust="spacingAndGlyphs">Abundance(%)</text>
<text transform="translate(28.2,1177.12) rotate(-90)" font-size="21.6" font-weight="bold" text-anchor="start" textLength="147.63" lengthAdjust="spacingAndGlyphs">Abundance(%)</text>
<text transform="translate(0.1,28) scale(0.85,1)" font-size="32" font-weight="normal" text-anchor="start">a</text>
<text transform="translate(2.8,731.6) scale(0.95,1)" font-size="33.7" font-weight="normal" text-anchor="start">b</text>
<g><text transform="translate(1006.00,528.10) scale(0.84,1) rotate(-45)" y="6.75" font-size="19.3" font-weight="bold" text-anchor="middle">Lichen</text><text transform="translate(1063.20,528.40) scale(0.84,1) rotate(-45)" y="6.75" font-size="19.3" font-weight="bold" text-anchor="middle">Moss</text><text transform="translate(1120.10,527.80) scale(0.84,1) rotate(-45)" y="6.75" font-size="19.3" font-weight="bold" text-anchor="middle">Soil</text><text transform="translate(106.50,690.30) scale(0.84,1) rotate(-45)" y="6.75" font-size="19.3" font-weight="bold" text-anchor="middle">Lichen</text><text transform="translate(163.70,690.60) scale(0.84,1) rotate(-45)" y="6.75" font-size="19.3" font-weight="bold" text-anchor="middle">Moss</text><text transform="translate(220.60,690.00) scale(0.84,1) rotate(-45)" y="6.75" font-size="19.3" font-weight="bold" text-anchor="middle">Soil</text><text transform="translate(331.30,690.30) scale(0.84,1) rotate(-45)" y="6.75" font-size="19.3" font-weight="bold" text-anchor="middle">Lichen</text><text transform="translate(388.50,690.60) scale(0.84,1) rotate(-45)" y="6.75" font-size="19.3" font-weight="bold" text-anchor="middle">Moss</text><text transform="translate(445.40,690.00) scale(0.84,1) rotate(-45)" y="6.75" font-size="19.3" font-weight="bold" text-anchor="middle">Soil</text><text transform="translate(551.50,690.30) scale(0.84,1) rotate(-45)" y="6.75" font-size="19.3" font-weight="bold" text-anchor="middle">Lichen</text><text transform="translate(608.70,690.60) scale(0.84,1) rotate(-45)" y="6.75" font-size="19.3" font-weight="bold" text-anchor="middle">Moss</text><text transform="translate(665.60,690.00) scale(0.84,1) rotate(-45)" y="6.75" font-size="19.3" font-weight="bold" text-anchor="middle">Soil</text><text transform="translate(785.50,690.30) scale(0.84,1) rotate(-45)" y="6.75" font-size="19.3" font-weight="bold" text-anchor="middle">Lichen</text><text transform="translate(842.70,690.60) scale(0.84,1) rotate(-45)" y="6.75" font-size="19.3" font-weight="bold" text-anchor="middle">Moss</text><text transform="translate(899.60,690.00) scale(0.84,1) rotate(-45)" y="6.75" font-size="19.3" font-weight="bold" text-anchor="middle">Soil</text><text transform="translate(996.60,1292.00) scale(1.0,1) rotate(-45)" y="6.96" font-size="19.9" font-weight="bold" text-anchor="middle">Lichen</text><text transform="translate(1049.50,1292.30) scale(1.0,1) rotate(-45)" y="6.96" font-size="19.9" font-weight="bold" text-anchor="middle">Moss</text><text transform="translate(1102.00,1291.70) scale(1.0,1) rotate(-45)" y="6.96" font-size="19.9" font-weight="bold" text-anchor="middle">Soil</text><text transform="translate(115.10,1455.20) scale(1.0,1) rotate(-45)" y="6.96" font-size="19.9" font-weight="bold" text-anchor="middle">Lichen</text><text transform="translate(168.00,1455.50) scale(1.0,1) rotate(-45)" y="6.96" font-size="19.9" font-weight="bold" text-anchor="middle">Moss</text><text transform="translate(220.50,1454.90) scale(1.0,1) rotate(-45)" y="6.96" font-size="19.9" font-weight="bold" text-anchor="middle">Soil</text><text transform="translate(332.70,1455.20) scale(1.0,1) rotate(-45)" y="6.96" font-size="19.9" font-weight="bold" text-anchor="middle">Lichen</text><text transform="translate(385.60,1455.50) scale(1.0,1) rotate(-45)" y="6.96" font-size="19.9" font-weight="bold" text-anchor="middle">Moss</text><text transform="translate(438.10,1454.90) scale(1.0,1) rotate(-45)" y="6.96" font-size="19.9" font-weight="bold" text-anchor="middle">Soil</text><text transform="translate(561.40,1455.90) scale(1.0,1) rotate(-45)" y="6.96" font-size="19.9" font-weight="bold" text-anchor="middle">Lichen</text><text transform="translate(614.30,1456.20) scale(1.0,1) rotate(-45)" y="6.96" font-size="19.9" font-weight="bold" text-anchor="middle">Moss</text><text transform="translate(666.80,1455.60) scale(1.0,1) rotate(-45)" y="6.96" font-size="19.9" font-weight="bold" text-anchor="middle">Soil</text><text transform="translate(778.70,1455.20) scale(1.0,1) rotate(-45)" y="6.96" font-size="19.9" font-weight="bold" text-anchor="middle">Lichen</text><text transform="translate(831.60,1455.50) scale(1.0,1) rotate(-45)" y="6.96" font-size="19.9" font-weight="bold" text-anchor="middle">Moss</text><text transform="translate(884.10,1454.90) scale(1.0,1) rotate(-45)" y="6.96" font-size="19.9" font-weight="bold" text-anchor="middle">Soil</text></g>
</svg>
</body></html>
